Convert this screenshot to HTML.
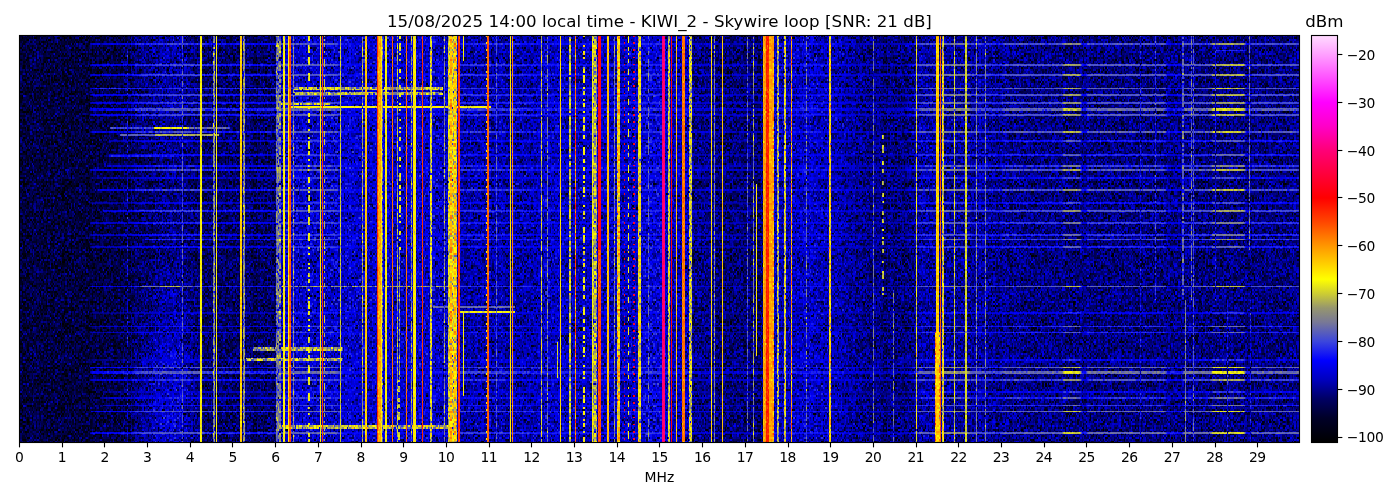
<!DOCTYPE html><html><head><meta charset="utf-8"><style>html,body{margin:0;padding:0;background:#fff;}body{width:1400px;height:500px;overflow:hidden;position:relative;}svg{position:absolute;left:0;top:0;}text{font-family:"DejaVu Sans","Liberation Sans",sans-serif;fill:#000;opacity:0.999;}</style></head><body><svg width="1400" height="500" viewBox="0 0 1400 500"><defs><linearGradient id="cb" x1="0" y1="1" x2="0" y2="0"><stop offset="0.0000" stop-color="#000000"/><stop offset="0.0596" stop-color="#000028"/><stop offset="0.1066" stop-color="#000064"/><stop offset="0.1536" stop-color="#0000be"/><stop offset="0.2007" stop-color="#0000ff"/><stop offset="0.2477" stop-color="#3c46dc"/><stop offset="0.2947" stop-color="#787896"/><stop offset="0.3300" stop-color="#96966e"/><stop offset="0.3652" stop-color="#cdcd32"/><stop offset="0.4005" stop-color="#ffff00"/><stop offset="0.4828" stop-color="#ff9600"/><stop offset="0.5416" stop-color="#ff4600"/><stop offset="0.6003" stop-color="#ff0000"/><stop offset="0.6591" stop-color="#ff003c"/><stop offset="0.7179" stop-color="#ff0078"/><stop offset="0.7767" stop-color="#ff00c8"/><stop offset="0.8354" stop-color="#ff00ff"/><stop offset="0.8942" stop-color="#ff50ff"/><stop offset="0.9530" stop-color="#ffa0ff"/><stop offset="1.0000" stop-color="#ffdcff"/></linearGradient></defs><defs><clipPath id="pc"><rect x="19.40" y="35.30" width="1280.00" height="406.90"/></clipPath><pattern id="pA" width="126" height="72" patternUnits="userSpaceOnUse"><path d="M29 1h2m12 0h2m3 0h2m5 0h1m14 0h1m20 0h1m12 0h1m1 0h2m3 0h1M7 3h1m9 0h3m25 0h1m4 0h2m10 0h1m6 0h1m15 0h2M4 5h2m2 0h2m38 0h1m7 0h3m25 0h3m5 0h3m21 0h2M7 7h1m3 0h2m7 0h1m29 0h2m5 0h2m11 0h1m44 0h1M20 9h1m3 0h1m11 0h2m7 0h1m4 0h2m24 0h1m4 0h2m30 0h2M22 11h2m4 0h1m9 0h1m4 0h2m66 0h1m3 0h1m2 0h1M32 13h2m4 0h3m4 0h1m30 0h1M17 15h1m24 0h3m22 0h2m21 0h1m3 0h1m18 0h2M36 17h2m4 0h1m30 0h1m13 0h1m4 0h2m26 0h2M8 19h2m28 0h3m2 0h2m7 0h1m4 0h2m14 0h1m13 0h1m7 0h2M39 21h2m1 0h3m4 0h1m2 0h1M8 23h2m57 0h2m26 0h2m2 0h2m5 0h2M3 25h1m38 0h1m5 0h1m7 0h1m5 0h1m25 0h2m11 0h1m2 0h1m3 0h1M31 27h1m9 0h1m3 0h1m30 0h1m4 0h2m26 0h2m9 0h2M36 29h2m12 0h2m61 0h2m8 0h2M24 31h1m13 0h1m51 0h1M13 33h1m17 0h1m16 0h1m6 0h1m20 0h1m1 0h2m40 0h2m1 0h2M22 35h2m45 0h1m6 0h1m17 0h1m2 0h1m15 0h2m5 0h2M8 37h2m71 0h3m22 0h2m3 0h1m6 0h1m1 0h2M7 39h1m42 0h2m4 0h1m9 0h1m10 0h1m16 0h1m3 0h1M3 41h1m10 0h1m13 0h3m15 0h2m26 0h2m5 0h2m15 0h1M10 43h1m7 0h2m18 0h1m10 0h1m13 0h1m7 0h2m7 0h1M6 45h2m6 0h1m28 0h2m42 0h1m9 0h1m13 0h2M7 47h1m7 0h2m17 0h1m11 0h2m14 0h1m3 0h1m18 0h2M22 49h2m5 0h2m53 0h1m21 0h2m4 0h1m12 0h1M46 51h2m23 0h2m3 0h1m4 0h2m9 0h2m7 0h1m18 0h2m1 0h2M8 53h2m7 0h1m4 0h2m22 0h3m39 0h2m21 0h2m3 0h2m7 0h1M31 55h1m9 0h1m38 0h1m2 0h1m8 0h2m1 0h2m19 0h2M11 57h2m11 0h1m20 0h1m10 0h1m12 0h1m24 0h1m23 0h1M7 59h1m84 0h2m4 0h1M0 61h1m2 0h1m7 0h2m19 0h2m1 0h1m10 0h2m23 0h2m18 0h1m3 0h2M10 63h1m30 0h1m15 0h2m8 0h2m53 0h1M0 65h1m16 0h1m13 0h1m6 0h1m17 0h1m9 0h1m27 0h1m9 0h1m1 0h2m11 0h1M1 67h2m66 0h1m27 0h1M14 69h1m37 0h1m55 0h1M1 71h2m28 0h1m38 0h1m12 0h1m6 0h1" stroke="#000000" stroke-width="2"/><path d="M18 1h2m4 0h1m21 0h2m25 0h1m7 0h2m9 0h2m1 0h2m1 0h1m3 0h2m15 0h1M3 3h1m6 0h1m4 0h2m22 0h2m19 0h2m14 0h4M1 5h2m3 0h2m21 0h2m10 0h1m7 0h1m17 0h2m29 0h1m2 0h1m6 0h3M0 7h1m3 0h2m16 0h5m1 0h1m17 0h2m7 0h1m6 0h1m55 0h1m3 0h1M18 9h2m33 0h2m1 0h1m7 0h2m35 0h1M3 11h1m4 0h2m4 0h1m12 0h1m13 0h1m25 0h2m39 0h1m16 0h1M1 13h2m3 0h1m20 0h1m29 0h2m4 0h1m54 0h1m6 0h1M3 15h1m14 0h2m7 0h1m10 0h1m2 0h1m14 0h1m7 0h2m7 0h3m35 0h1m4 0h2M7 17h1m21 0h2m4 0h1m23 0h1m9 0h1m4 0h2m1 0h1m16 0h1m14 0h2m4 0h1M63 19h1m12 0h1m8 0h2m5 0h2m7 0h1M6 21h1m46 0h2m4 0h3m21 0h2m31 0h2m2 0h2m1 0h2M10 23h1m6 0h1m20 0h1m24 0h1m27 0h1m19 0h1m6 0h1m1 0h2m3 0h1M1 25h2m5 0h2m28 0h1m11 0h2m11 0h1m30 0h1m16 0h1M25 27h2m60 0h1m7 0h2m4 0h1m14 0h2M8 29h2m7 0h1m2 0h1m3 0h1m7 0h2m14 0h1m22 0h2m7 0h1m14 0h3m3 0h1m17 0h3M0 31h1m3 0h2m43 0h1m9 0h1m35 0h2m11 0h1m4 0h2M0 33h1m10 0h2m15 0h1m31 0h2m26 0h2m18 0h1m2 0h1M13 35h1m1 0h2m10 0h1m10 0h1m17 0h4m3 0h1m16 0h1M11 37h2m15 0h1m5 0h1m20 0h1m15 0h2m1 0h2m2 0h2m14 0h1m28 0h2M24 39h1m53 0h3m30 0h1M36 41h2m7 0h1m11 0h2m5 0h2M8 43h2m25 0h1m12 0h1m6 0h1m66 0h1M21 45h1m7 0h2m5 0h2m1 0h2m29 0h1m19 0h1m1 0h2m15 0h2M13 47h1m10 0h1m2 0h1m46 0h2m8 0h1M8 49h5m2 0h2m94 0h1m8 0h2M6 51h1m28 0h1m6 0h1m19 0h1m11 0h2m4 0h1M1 53h2m1 0h2m7 0h1m6 0h1m15 0h2m35 0h1m4 0h2m21 0h1m17 0h1M3 55h1m2 0h1m14 0h1m34 0h3m61 0h2M1 57h3m4 0h2m24 0h2m6 0h1m5 0h1m4 0h2m7 0h1m13 0h2m44 0h1M8 59h2m12 0h2m14 0h3m9 0h2m1 0h2m1 0h1m19 0h1m35 0h1m2 0h1m3 0h1m3 0h2M18 61h2m25 0h1m2 0h1m18 0h2m1 0h1m14 0h2m10 0h1m7 0h3m4 0h3m5 0h2M18 63h2m2 0h2m14 0h1m6 0h1m14 0h2m11 0h1m4 0h2m14 0h1m13 0h1m11 0h2M13 65h1m22 0h2m24 0h1m4 0h2m11 0h1m4 0h3m23 0h1M11 67h2m1 0h1m10 0h2m5 0h3m6 0h1m1 0h2m7 0h1m2 0h1m6 0h1m24 0h1M0 69h1m16 0h1m10 0h1m10 0h2m4 0h1m24 0h1m12 0h1m11 0h2m7 0h1m20 0h1M15 71h2m42 0h1m2 0h1m4 0h2m2 0h2m1 0h2m11 0h1m11 0h2m5 0h2m10 0h1m6 0h1" stroke="#171717" stroke-width="2"/><path d="M10 1h1m6 0h1m4 0h2m17 0h1M11 3h2m9 0h2m10 0h1m18 0h2m8 0h1m30 0h1m4 0h2m1 0h2m1 0h1m9 0h1M27 5h1m3 0h1m27 0h1m6 0h1m3 0h1m10 0h2m23 0h2m14 0h1M74 7h2m5 0h2m26 0h3m8 0h2M39 9h2m8 0h1m23 0h1m9 0h1m11 0h2m9 0h2M45 11h1m4 0h2m1 0h2m25 0h1m14 0h2M4 13h2m12 0h2m15 0h1m6 0h1m41 0h1m16 0h1m6 0h1m10 0h1m2 0h1M10 15h1m41 0h1m2 0h1m3 0h3m7 0h1m27 0h1m11 0h2M11 17h2m1 0h1m7 0h2m4 0h1m27 0h1m66 0h2M1 19h2m43 0h2m32 0h1m18 0h2m4 0h1m17 0h2M1 21h2m60 0h1m17 0h2m14 0h1m1 0h2m8 0h2M28 23h1m55 0h1m3 0h3m11 0h2M7 25h1m23 0h1m35 0h2m2 0h2m4 0h1m20 0h3m12 0h2M4 27h2m2 0h2m24 0h1m21 0h1m2 0h1m2 0h1m3 0h1m10 0h1m2 0h1m3 0h3M1 29h2m19 0h2m32 0h1m41 0h1m3 0h2m4 0h3m14 0h1M10 31h1m3 0h1m48 0h1m13 0h1m19 0h1m20 0h1M4 33h2m4 0h1m11 0h3m9 0h1m1 0h2m11 0h1m6 0h1m7 0h2m3 0h1m13 0h1M48 35h1m13 0h1m15 0h2m7 0h1m17 0h1m16 0h1M21 37h1m7 0h2m10 0h1m20 0h1m4 0h2m26 0h2m4 0h1m6 0h3m11 0h1M20 39h1m1 0h2m36 0h2m1 0h1m17 0h2m9 0h2m21 0h1m4 0h2M15 41h2m3 0h2m13 0h1m40 0h1m13 0h1m14 0h1m2 0h1M0 43h1m20 0h1m17 0h2m2 0h2m29 0h2m2 0h2m11 0h1m13 0h1m9 0h1M4 45h2m50 0h1m5 0h1m13 0h1m46 0h2M35 47h1m12 0h1m46 0h2m1 0h3M3 49h1m3 0h1m16 0h1m27 0h1m4 0h2m5 0h2m4 0h3m10 0h1m6 0h1m14 0h1m2 0h1M3 51h1m16 0h1m10 0h1m2 0h1m8 0h2m7 0h1m20 0h1m9 0h1m3 0h1m34 0h1m2 0h1M50 53h2m33 0h2m4 0h1m6 0h1m3 0h3m3 0h1M0 55h1m17 0h2m7 0h1m4 0h2m64 0h1m19 0h1m4 0h2M0 57h1m9 0h1m38 0h1m2 0h1m11 0h2m43 0h4m6 0h1M21 59h1m13 0h1m66 0h2M15 61h2m4 0h1m41 0h1m9 0h1m16 0h1m27 0h1M15 63h2m4 0h1m3 0h3m3 0h1m11 0h2m7 0h1m37 0h1M1 65h2m56 0h1m37 0h2m14 0h2M13 67h1m4 0h2m40 0h2m1 0h1m27 0h1m7 0h2m18 0h1M31 69h1m10 0h1m7 0h2m5 0h2m5 0h2m7 0h1m10 0h1m3 0h2m19 0h2m9 0h2M7 71h1m2 0h1m2 0h1m6 0h1m60 0h2m5 0h2m4 0h1m10 0h1m14 0h2" stroke="#2e2e2e" stroke-width="2"/><path d="M8 1h2m40 0h3m9 0h1m1 0h2m21 0h1m20 0h3m12 0h2M13 3h1m13 0h1m3 0h1m11 0h2m7 0h1m11 0h2m14 0h1m3 0h1m23 0h1m2 0h1m1 0h2m5 0h2M13 5h1m18 0h2m9 0h3m9 0h1M59 7h1m18 0h2m8 0h2m5 0h2m2 0h3m2 0h1m3 0h1M1 9h2m40 0h2m3 0h1m18 0h3m14 0h1m14 0h2m10 0h1M1 11h2m7 0h3m26 0h2m28 0h1m22 0h2m10 0h1M14 13h1m13 0h1m12 0h1m1 0h2m8 0h2m15 0h1m16 0h1m4 0h2m1 0h2m5 0h2m9 0h5m2 0h2M11 15h2m7 0h1m15 0h2m15 0h2m2 0h2m26 0h2m8 0h2m9 0h2m17 0h1M25 17h2m16 0h2m5 0h2m14 0h1m13 0h1m7 0h2M41 19h1m22 0h2m5 0h2m8 0h2m11 0h1M3 21h1m21 0h2m2 0h5m2 0h2m17 0h1m10 0h1m7 0h2m12 0h2M13 23h1m15 0h2m25 0h1m5 0h1m13 0h1m20 0h1M14 25h1m2 0h1m51 0h1m10 0h1m31 0h1m3 0h2m1 0h1M1 27h2m25 0h1m3 0h2m9 0h2m5 0h2m31 0h1m27 0h1m1 0h2m4 0h1M43 29h2m8 0h2m19 0h3m34 0h1m10 0h1M13 31h1m18 0h2m8 0h1m10 0h2m15 0h1m10 0h2m4 0h1m6 0h1m3 0h1m20 0h1M18 33h2m30 0h2m19 0h2M14 35h1m3 0h2m9 0h2m5 0h2m11 0h1m21 0h2m19 0h2m14 0h3m4 0h1M1 37h2m3 0h2m23 0h1m6 0h1m4 0h2m14 0h1m4 0h2m32 0h3M28 39h1m9 0h1m4 0h2m7 0h1m37 0h1m28 0h1M11 41h2m18 0h1m21 0h2m5 0h2m4 0h1m6 0h1m20 0h1m4 0h2m3 0h1m6 0h1m1 0h2M3 43h1m28 0h2m11 0h1m23 0h1m3 0h1m7 0h2m23 0h2m12 0h2M3 45h1m18 0h2m8 0h2m21 0h1m3 0h1m7 0h2M11 47h2m37 0h2m1 0h2m2 0h3m7 0h2m21 0h1m6 0h1m22 0h2m1 0h2M55 49h1m17 0h1m6 0h1m32 0h2M13 51h1m13 0h1m32 0h2m2 0h2m22 0h2m12 0h2m8 0h1m2 0h1M18 53h2m7 0h1m24 0h1m30 0h1m3 0h1m9 0h1m25 0h2M13 55h1m28 0h1m30 0h1m35 0h2m11 0h1M21 57h1m5 0h1m4 0h2m7 0h1m17 0h1m20 0h1m6 0h1m17 0h1m2 0h1M6 59h1m4 0h2m7 0h1m25 0h2m14 0h1m3 0h1m4 0h2m24 0h1m24 0h1M34 61h1m4 0h2m14 0h1m3 0h1m56 0h2M3 63h3m5 0h2m29 0h1m31 0h2m9 0h2m18 0h1M10 65h1m11 0h2m19 0h2m7 0h1m16 0h1m20 0h1m32 0h2M53 67h2m18 0h1m21 0h2M4 69h2m15 0h1m2 0h1m16 0h1m29 0h2m1 0h3m8 0h2m18 0h1M38 71h1m9 0h1m8 0h2m17 0h1m38 0h1m7 0h2" stroke="#464646" stroke-width="2"/><path d="M21 1h1m45 0h2m8 0h1m6 0h1m5 0h1m8 0h2M0 3h1m3 0h2m40 0h2m1 0h1m17 0h2m4 0h1m32 0h2M11 5h2m5 0h2m4 0h1m17 0h1m7 0h2m8 0h2m29 0h1m12 0h1M29 7h2m21 0h1m16 0h1m3 0h1m20 0h1m24 0h1M0 9h1m20 0h1m6 0h1m3 0h2m12 0h2m23 0h2m12 0h2M15 11h2m3 0h1m14 0h1m38 0h2m9 0h3m6 0h1m4 0h2M13 13h1m20 0h1m13 0h1m18 0h2M0 15h1m61 0h1M4 17h3m25 0h2m11 0h1m2 0h1m32 0h2m12 0h4M14 19h1m5 0h1m3 0h1m3 0h1m2 0h1m4 0h2m32 0h1m41 0h1m12 0h1M8 21h2m4 0h3m11 0h1m16 0h3m9 0h2m35 0h1m10 0h1M7 23h1m3 0h2m7 0h1m6 0h1m20 0h1m3 0h1m41 0h1m10 0h1m9 0h1m6 0h1M85 25h3m3 0h1m3 0h2M6 27h1m3 0h1m6 0h1m21 0h2m22 0h1m7 0h2m17 0h1m17 0h1M3 29h1m2 0h1m4 0h2m32 0h1m11 0h2m5 0h2m7 0h1m9 0h2M39 31h2m4 0h1m11 0h2m5 0h2m1 0h2m42 0h1M3 33h1m10 0h1m23 0h1m31 0h1m28 0h2m24 0h1M10 35h1m21 0h2m36 0h1m3 0h2m19 0h2m4 0h1m9 0h1M13 37h1m3 0h1m14 0h2m5 0h2m7 0h2m10 0h2m4 0h1m20 0h1m2 0h1m6 0h1m4 0h2M10 39h1m23 0h1m4 0h2m8 0h1m26 0h1m18 0h2m9 0h2m10 0h1M41 41h1m13 0h2m12 0h1m48 0h1M13 43h1m1 0h2m7 0h1m9 0h1m24 0h1m4 0h2m17 0h1m13 0h1m10 0h1m14 0h2M17 45h1m17 0h1m13 0h1m3 0h2m25 0h1m3 0h1m10 0h2m5 0h2m4 0h1m10 0h3M25 47h2m12 0h3m10 0h1m2 0h1m25 0h2m25 0h1m3 0h1M14 49h1m17 0h2m7 0h1m3 0h1m23 0h1m8 0h2m11 0h1m2 0h1m2 0h1m17 0h1M7 51h1m3 0h2m16 0h2m7 0h1m9 0h1m4 0h2m2 0h2m10 0h1m7 0h1m31 0h3m1 0h2M6 53h1m4 0h2m12 0h2m5 0h2m9 0h2m17 0h1m7 0h3m7 0h1m13 0h1M20 55h1m69 0h1m13 0h1M6 57h2m7 0h2m12 0h2m29 0h2m39 0h1m18 0h2m1 0h2M4 59h2m11 0h1m7 0h2m5 0h2m18 0h1m2 0h1m25 0h2m4 0h3m15 0h1m3 0h2M80 61h1m27 0h1m16 0h1M0 63h1m52 0h2m8 0h1m7 0h2m3 0h1m21 0h3m3 0h1m18 0h2M50 65h2m18 0h1m2 0h1m7 0h2m8 0h1m7 0h2m1 0h2M46 67h2m16 0h2M7 69h1m7 0h2m1 0h2m28 0h1m20 0h1m28 0h1m3 0h2m8 0h1m2 0h4m3 0h1M0 71h1m2 0h3m22 0h3m21 0h1m16 0h1m8 0h2" stroke="#5d5d5d" stroke-width="2"/><path d="M57 1h2m26 0h2M1 3h2m3 0h1m64 0h2m15 0h3M62 5h1m6 0h1m3 0h1m14 0h2m15 0h1m7 0h2m8 0h3M34 7h1m36 0h2m10 0h1m6 0h1m15 0h2m5 0h2M11 9h2m4 0h1m13 0h1m31 0h1m23 0h1m34 0h1m2 0h1M18 11h2m4 0h1m6 0h1m16 0h1M20 13h1m4 0h2m22 0h1m2 0h1m53 0h2m1 0h2m1 0h1M24 15h3m5 0h2m42 0h1m6 0h1m4 0h2m11 0h1m2 0h1m10 0h1M3 17h1m11 0h2m3 0h1m10 0h1m6 0h1m10 0h1m49 0h2M21 19h1m31 0h2m7 0h1m34 0h1m4 0h2m15 0h1M13 21h1m55 0h1m3 0h1m2 0h2m20 0h1m5 0h1m8 0h2m4 0h1M25 23h2m4 0h1m3 0h3m1 0h2m14 0h1m8 0h3m2 0h1m10 0h1m38 0h1M0 25h1m20 0h1m3 0h4m17 0h2m11 0h1m18 0h2m29 0h2m4 0h1M21 27h1m26 0h1m11 0h2m26 0h2M4 29h2m12 0h2m46 0h1m14 0h2m8 0h1M6 31h1m13 0h1m10 0h1m9 0h1m1 0h2m11 0h1m14 0h2m32 0h3m1 0h2M7 33h1m9 0h1m3 0h1m44 0h1m7 0h2m15 0h1m21 0h2m7 0h1M8 35h2m32 0h1m34 0h1m10 0h2m9 0h2m1 0h2m12 0h3M15 37h2m5 0h2m26 0h2M1 39h3m58 0h1m38 0h1M4 41h2m2 0h2m57 0h2m1 0h1m13 0h1m17 0h2M14 43h1m21 0h2m4 0h1m7 0h2m5 0h2m39 0h1m20 0h1m5 0h1M0 45h1m26 0h1m3 0h1m16 0h1m14 0h1m9 0h1m17 0h1m14 0h2m5 0h5M4 47h3m36 0h2m35 0h1m2 0h1m3 0h1m13 0h1m7 0h2m2 0h2m10 0h1M0 49h1m30 0h1m14 0h2m2 0h2m1 0h2m61 0h2m5 0h2M4 51h2m39 0h1m13 0h1m6 0h1m17 0h1m10 0h2M7 53h1m13 0h1m31 0h2m2 0h2m4 0h1m5 0h1m6 0h1m4 0h2m16 0h2m4 0h3m12 0h2M1 55h2m5 0h2m15 0h2m1 0h1m17 0h2m49 0h1m4 0h2m4 0h1M14 57h1m3 0h2m30 0h2m3 0h1m1 0h2m25 0h1m10 0h2m1 0h1m26 0h1M3 59h1m11 0h2m11 0h1m12 0h1m35 0h1m2 0h1m20 0h1m9 0h1m13 0h1M1 61h2m7 0h1m9 0h1m4 0h2m35 0h1m29 0h3m3 0h1M1 63h2m80 0h1m22 0h2m5 0h2m3 0h1M7 65h1m7 0h2m1 0h3m11 0h2m8 0h1m2 0h1m3 0h1m7 0h2m5 0h2m11 0h1m14 0h2m1 0h2m18 0h1M7 67h1m20 0h1m6 0h1m21 0h2m35 0h1m3 0h1m3 0h2m12 0h2m7 0h1M8 69h2m45 0h1m6 0h1m4 0h2m12 0h2m7 0h1m1 0h3m11 0h2M34 71h1m8 0h3m10 0h1m20 0h1m2 0h1m30 0h1" stroke="#747474" stroke-width="2"/><path d="M32 1h2m44 0h2m17 0h1m3 0h1m11 0h2m1 0h3M8 3h2m25 0h1m2 0h1m2 0h2m12 0h1m18 0h2m25 0h1m21 0h2M3 5h1m13 0h1m2 0h1m31 0h1M6 7h1m8 0h3m13 0h1m3 0h1m55 0h1m6 0h1m3 0h2M3 9h3m35 0h1m55 0h1m4 0h2m1 0h1m9 0h1M13 11h1m20 0h1m7 0h1m47 0h1m14 0h1m7 0h2m5 0h2M10 13h3m8 0h1m7 0h2m43 0h2m1 0h1m2 0h1M1 15h2m1 0h3m6 0h1m63 0h1m2 0h1m3 0h1m13 0h1m6 0h1m14 0h2M13 17h1m7 0h1m2 0h1m28 0h2m5 0h2m8 0h1m13 0h1m6 0h1m13 0h1m16 0h1m2 0h1M10 19h1m2 0h1m3 0h1m30 0h1m1 0h2m4 0h1m9 0h1m23 0h1m17 0h1m9 0h1M48 21h1m42 0h1m3 0h2m14 0h1m13 0h1M57 23h2m12 0h2m1 0h2m5 0h2m26 0h2M13 25h1m10 0h1m18 0h2m4 0h1m14 0h3m7 0h2m5 0h3M7 27h1m12 0h1m8 0h2m4 0h1m17 0h2m2 0h2m53 0h1m10 0h2M7 29h1m19 0h1m10 0h1m21 0h2m5 0h2m8 0h1m16 0h1m17 0h1M1 31h3m3 0h1m9 0h1m3 0h1m5 0h1m24 0h1m49 0h2M32 33h2m8 0h1m9 0h1m6 0h1m3 0h1m20 0h1m7 0h2m4 0h1m6 0h3m10 0h2M3 35h1m2 0h1m14 0h1m13 0h1m9 0h1m7 0h2m30 0h2M18 37h2m7 0h1m63 0h1m24 0h2M27 39h1m42 0h1m26 0h1m18 0h2M6 41h1m25 0h2m4 0h1m4 0h2m17 0h1m14 0h1m14 0h2m1 0h3m3 0h1m10 0h1M6 43h2m19 0h1m24 0h1m3 0h1m9 0h1m17 0h3m17 0h1m8 0h2m1 0h2M38 45h1m2 0h1m4 0h2m9 0h2m15 0h2m12 0h2m4 0h1m3 0h1M1 47h2m17 0h1m1 0h2m7 0h3m30 0h2m26 0h2m17 0h1M27 49h1m6 0h1m4 0h2m19 0h2m12 0h2m19 0h2m4 0h3m18 0h1M14 51h1m3 0h2m2 0h2m17 0h1m14 0h1m33 0h1m3 0h1m3 0h1M31 53h1m7 0h2m1 0h1m12 0h1m53 0h2m2 0h2m3 0h1M10 55h1m4 0h2m7 0h1m13 0h1m13 0h1m11 0h2m3 0h2m3 0h2m39 0h1M25 57h2m36 0h1m3 0h2m22 0h3M18 59h2m7 0h1m3 0h1m13 0h1m18 0h2m3 0h1m8 0h2m19 0h2m5 0h3M36 61h3m13 0h1m13 0h1m20 0h1m11 0h2M7 63h1m24 0h2m5 0h2m9 0h2m7 0h1m9 0h2m10 0h2m12 0h2m12 0h2m1 0h1m3 0h2M4 65h2m2 0h2m24 0h1m39 0h2m2 0h2m8 0h2m18 0h1M6 67h1m13 0h1m3 0h1m20 0h1m10 0h1m10 0h2m1 0h3m7 0h1m2 0h1m20 0h1m4 0h2m12 0h2M11 69h2m7 0h1m4 0h2m5 0h2m2 0h2M8 71h2m22 0h2m57 0h1m9 0h1m17 0h1" stroke="#8b8b8b" stroke-width="2"/><path d="M0 1h1m2 0h3m7 0h1m6 0h1m13 0h1m21 0h1m2 0h1m9 0h1m4 0h2m36 0h1M20 3h2m6 0h1m37 0h1m25 0h2m3 0h1m27 0h1M22 5h2m10 0h1m18 0h2m16 0h2m14 0h1m11 0h2m10 0h1M3 7h1m4 0h2m31 0h4m11 0h1m6 0h1m3 0h2m16 0h3m24 0h1m10 0h3M8 9h2m5 0h2m25 0h1m12 0h1m14 0h1m6 0h1m30 0h3m12 0h2M29 11h2m5 0h2m14 0h1m9 0h2m6 0h1m31 0h2M0 13h1m7 0h2m5 0h3m4 0h2m32 0h1m2 0h1M39 15h2m9 0h2m19 0h2m5 0h2m19 0h2M34 17h1m28 0h1m19 0h1m28 0h1M0 19h1m2 0h1m7 0h2m12 0h2m42 0h1m8 0h2m11 0h1m12 0h1m4 0h2M4 21h2m64 0h3m5 0h2m5 0h2m3 0h1m27 0h1M3 23h1m2 0h1m14 0h1m20 0h1m6 0h1m3 0h2m37 0h2M18 25h2m2 0h2m8 0h3m17 0h1m37 0h1m11 0h2m2 0h2m15 0h2M3 27h1m11 0h2m1 0h2m7 0h1m18 0h2m1 0h1m47 0h1m1 0h2m17 0h1M0 29h1m12 0h1m15 0h2m4 0h1m6 0h1m6 0h1m37 0h1m4 0h2m21 0h1M18 31h2m28 0h1m50 0h2m11 0h1m2 0h1M29 33h2m22 0h2m30 0h2m3 0h1m10 0h3M17 35h1m6 0h1m42 0h2m12 0h3m14 0h1m5 0h1m1 0h2m11 0h1M25 37h2m46 0h1m2 0h1m36 0h2m4 0h1M6 39h1m24 0h1m9 0h1m6 0h1m10 0h1m9 0h1m3 0h1m35 0h2m11 0h1M1 41h2m4 0h1m9 0h1m6 0h1m17 0h1m20 0h1m27 0h1m17 0h2m5 0h2m1 0h4M1 43h2m50 0h2m15 0h1m16 0h1m13 0h1m10 0h1M11 45h2m29 0h1m2 0h1m4 0h2m8 0h2m15 0h1m21 0h2m3 0h1M0 47h1m27 0h3m11 0h1m2 0h1m24 0h1m34 0h1m13 0h1M17 49h1m3 0h1m6 0h1m56 0h2M1 51h2m5 0h2m22 0h2m5 0h2m22 0h1m21 0h2m4 0h1m24 0h2M15 53h2m12 0h2m7 0h1m28 0h2M11 55h2m1 0h1m33 0h1m14 0h1m3 0h2m18 0h3m11 0h1m10 0h1m6 0h1M20 57h1m7 0h1m9 0h3m2 0h2m28 0h3m40 0h2M34 59h1m13 0h1m11 0h2m1 0h1m9 0h1m10 0h1m35 0h2M17 61h1m4 0h2m3 0h1m21 0h1m10 0h2m22 0h1m3 0h2M8 63h2m4 0h1m5 0h1m41 0h1m21 0h1m26 0h1m7 0h1M21 65h1m6 0h1m31 0h2m43 0h1M4 67h2m9 0h2m4 0h1m5 0h1m38 0h1m10 0h3m5 0h2m24 0h1m3 0h1m4 0h2M3 69h1m31 0h1m2 0h1m21 0h2m1 0h1m2 0h1m56 0h2M39 71h3m71 0h2m7 0h1" stroke="#a2a2a2" stroke-width="2"/><path d="M1 1h2m3 0h1m4 0h2m12 0h2m18 0h1m17 0h1m16 0h1m7 0h2M25 3h2m2 0h2m88 0h1M10 5h1m14 0h2m8 0h1m27 0h1m14 0h2m32 0h1M45 7h1m2 0h2m30 0h1M7 9h1m51 0h1m18 0h2m8 0h2m1 0h3m22 0h2m2 0h2M17 11h1m7 0h2m5 0h2m12 0h2m7 0h1m1 0h2m12 0h3m3 0h1m3 0h4m12 0h2m7 0h2m1 0h2m5 0h2m1 0h1m2 0h1M7 13h1m16 0h1m39 0h2m7 0h1m7 0h2m2 0h2m3 0h1m3 0h1m2 0h1M7 15h1m21 0h2m3 0h1m10 0h1m2 0h1m32 0h2m29 0h1M0 17h1m16 0h1m39 0h2m3 0h1m22 0h2m14 0h4m1 0h2m8 0h2M4 19h2m9 0h2m5 0h2m5 0h2m43 0h2m22 0h1m23 0h1M7 21h1m2 0h1m23 0h1m21 0h1m7 0h2m40 0h2m14 0h1M50 23h2m8 0h2m21 0h1m14 0h1m2 0h1m11 0h2m1 0h2M20 25h1m14 0h1m17 0h2m2 0h2m25 0h1M0 27h1m12 0h2m9 0h1m11 0h3m25 0h2m7 0h3m18 0h1m10 0h3m14 0h1m2 0h1M10 29h1m51 0h1m6 0h1M8 31h2m26 0h2m12 0h2m3 0h1m10 0h1m2 0h1m4 0h3m6 0h1m38 0h4M1 33h2m24 0h1m29 0h2m8 0h2m43 0h1m2 0h3M20 35h1m7 0h1m2 0h1m11 0h2m15 0h2m2 0h2m18 0h1M0 37h1m2 0h1m41 0h1m7 0h2m2 0h2m18 0h1m2 0h1m7 0h2m15 0h1m19 0h1M8 39h2m1 0h2m2 0h2m1 0h2m12 0h2m8 0h1m28 0h2m12 0h2m18 0h1m7 0h2M25 41h2m7 0h1m4 0h2m18 0h1m46 0h2M4 43h2m14 0h1m4 0h2m33 0h2m14 0h1m11 0h2m2 0h2m1 0h2m12 0h2m7 0h1M24 45h1m44 0h1m13 0h1M18 47h2m18 0h1m21 0h2m1 0h1m5 0h1m3 0h1m3 0h1m40 0h1M4 49h2m12 0h2m15 0h1m83 0h1M0 51h1m27 0h1m7 0h2m29 0h2m1 0h1m26 0h1m1 0h2m3 0h1M0 53h1m9 0h1m3 0h1m9 0h1m9 0h1m24 0h1m32 0h2m21 0h1m6 0h1M29 55h2m22 0h2m16 0h2m4 0h1m3 0h2m1 0h1m14 0h2m12 0h2M4 57h2m11 0h1m4 0h2m12 0h2m8 0h2m33 0h2m5 0h2M36 59h2m4 0h1m73 0h2M24 61h1m17 0h1m13 0h1m7 0h2m35 0h4m4 0h2m11 0h3M17 63h1m6 0h1m4 0h2m24 0h1m8 0h2m11 0h1m10 0h2m2 0h2m31 0h1M3 65h1m2 0h1m17 0h1m2 0h1m35 0h1m48 0h1M0 67h1m37 0h1m11 0h2m7 0h1m24 0h1m3 0h2m16 0h2M29 69h2m3 0h1m14 0h1m9 0h1m17 0h1m33 0h1m7 0h1M6 71h1m4 0h2m4 0h1m3 0h1m14 0h2m12 0h2m8 0h2m35 0h2m3 0h2m4 0h1" stroke="#b9b9b9" stroke-width="2"/><path d="M7 1h1m7 0h2m14 0h1m6 0h1m3 0h1m10 0h2m5 0h2m32 0h1m25 0h2M48 3h1m7 0h1m2 0h1m10 0h1m10 0h2m4 0h1m3 0h1m3 0h2m1 0h1m10 0h2M0 5h1m20 0h1m16 0h3m23 0h2m14 0h1m2 0h1m11 0h2M10 7h1m2 0h1m4 0h2m1 0h1m17 0h2m12 0h2m9 0h2m11 0h1m27 0h1M14 9h1m7 0h2m5 0h2m4 0h1m58 0h1m23 0h1M64 11h2m25 0h1m9 0h1m10 0h1m10 0h2M31 13h1m23 0h1m6 0h1m3 0h1m16 0h1m14 0h3m10 0h1M21 15h1m24 0h2m1 0h1m16 0h1m20 0h1m20 0h1m13 0h3M1 17h2m38 0h1m13 0h1m15 0h2m3 0h1m31 0h1m9 0h1M6 19h2m10 0h2m22 0h1m16 0h1m23 0h1m4 0h2m21 0h1m3 0h1M11 21h2m4 0h1m3 0h1m2 0h1m25 0h2m35 0h1m14 0h2m11 0h1M0 23h3m12 0h2m26 0h3m27 0h1m4 0h2m5 0h3m16 0h1m7 0h1M41 25h1m63 0h1m12 0h1m1 0h2m3 0h1M55 27h1m14 0h1m7 0h2m11 0h1m12 0h1M46 29h2m7 0h1m29 0h2m12 0h2m15 0h2M22 31h2m4 0h1m6 0h1m24 0h2m11 0h1m4 0h2m8 0h2m11 0h1m18 0h2M8 33h2m10 0h1m4 0h2m16 0h3m16 0h1m10 0h1m13 0h1m6 0h1m2 0h1m11 0h2M1 35h2m4 0h1m3 0h2m33 0h2m7 0h1m10 0h1m24 0h1M56 37h1m27 0h3m5 0h2m18 0h1m2 0h1M21 39h1m3 0h2m18 0h3m5 0h2m2 0h2m5 0h2m1 0h2m14 0h1m3 0h1m3 0h1m10 0h2m4 0h1M0 41h1m17 0h2m32 0h1m18 0h2m5 0h2m5 0h2m1 0h2m25 0h1M17 43h1m10 0h1m38 0h2m8 0h1M1 45h2m10 0h1m64 0h2m21 0h1m16 0h1M3 47h1m4 0h2m7 0h1m3 0h1m27 0h1m26 0h1m25 0h2m2 0h2M25 49h2m29 0h1m2 0h1m6 0h1m9 0h1m10 0h1M17 51h1m3 0h1m27 0h3m53 0h1m2 0h1m9 0h1M45 53h1m3 0h1m27 0h1M4 55h2m1 0h1m35 0h3m9 0h1m20 0h1m1 0h2m11 0h1m2 0h1m11 0h2M66 57h1m4 0h2m31 0h1m10 0h1M0 59h3m26 0h2m18 0h1m20 0h1m12 0h1m11 0h2m7 0h1m8 0h2M6 61h1m24 0h1m25 0h2m18 0h1m33 0h1m3 0h1M6 63h1m6 0h1m14 0h1m5 0h2m20 0h1m34 0h1m10 0h2M35 65h1m5 0h1m4 0h2m5 0h3m15 0h2m10 0h1m25 0h2m9 0h2m3 0h1M92 67h2m11 0h1m6 0h3m3 0h1M13 69h1m13 0h1m15 0h2m11 0h1m23 0h1m6 0h1m11 0h2M14 71h1m10 0h2m26 0h2m8 0h1m9 0h1m18 0h2m18 0h1" stroke="#d1d1d1" stroke-width="2"/><path d="M14 1h1m13 0h1m6 0h1m3 0h2m25 0h1m4 0h2m3 0h1m28 0h1m16 0h1m2 0h1M24 3h1m11 0h2m19 0h2m24 0h1m20 0h1m13 0h1m3 0h1M36 5h2m36 0h2m21 0h1M1 7h2m11 0h1m12 0h1m38 0h1m9 0h1m7 0h1m7 0h2m3 0h1M6 9h1m3 0h1m14 0h2m7 0h1m3 0h1m13 0h1m4 0h2m1 0h3m3 0h1m45 0h1m6 0h1M0 11h1m5 0h1m42 0h1m9 0h1m18 0h2m8 0h2M46 13h2m30 0h2m8 0h2m1 0h1m13 0h1M14 15h3m5 0h2m7 0h1m3 0h1m27 0h1m6 0h1m20 0h1m27 0h1M39 17h2m5 0h2m4 0h1m11 0h2m24 0h1m20 0h1m1 0h2m4 0h1M27 19h1m4 0h2m11 0h1m3 0h1m56 0h2m5 0h2m1 0h2M18 21h2m7 0h1m7 0h1m2 0h1m2 0h1m20 0h1m4 0h2m32 0h1m10 0h1M4 23h2m8 0h1m17 0h2m12 0h2m22 0h1m37 0h1M4 25h3m4 0h2m16 0h2m14 0h1m9 0h1m17 0h1m2 0h1m20 0h1M11 27h2m9 0h2m18 0h1m24 0h2m46 0h1M14 29h1m6 0h1m3 0h2m1 0h1m5 0h1m24 0h1m10 0h1m19 0h1m13 0h2M11 31h2m21 0h1m11 0h2m43 0h3M15 33h2m18 0h1m3 0h2m5 0h2m29 0h1m3 0h2M34 35h1m6 0h1m8 0h2m71 0h2M4 37h2m4 0h1m35 0h2m4 0h1m10 0h1m5 0h2M0 39h1m3 0h2m7 0h2m14 0h2m53 0h1m27 0h1m12 0h1M48 41h1m31 0h1m42 0h3M29 43h2m31 0h1m39 0h2M10 45h1m7 0h3m7 0h1m5 0h1m29 0h2m56 0h1m2 0h1M14 47h1m21 0h2m18 0h1m14 0h2m21 0h1m21 0h2m4 0h1M20 49h1m22 0h2m4 0h1m12 0h1m14 0h1m3 0h2m15 0h3m3 0h1M10 51h1m13 0h1m30 0h1m22 0h2m26 0h2M3 53h1m31 0h1m24 0h2m2 0h3m7 0h2m19 0h2M22 55h2m11 0h3m1 0h2m9 0h2m14 0h1m18 0h2m38 0h1M31 57h1m38 0h1m7 0h2m3 0h1m6 0h1m8 0h2m1 0h2M24 59h1m32 0h3m14 0h2m9 0h2m3 0h1m3 0h1m23 0h1M7 61h1m5 0h2m13 0h3m10 0h1m8 0h2m1 0h2m19 0h2m5 0h2m36 0h1M66 63h1m13 0h1m6 0h1m9 0h1m17 0h1M11 65h2m63 0h1m7 0h1m16 0h1m14 0h2m4 0h1M8 67h3m6 0h1m4 0h2m12 0h2m11 0h1m24 0h2m25 0h1m6 0h1M6 69h1m39 0h2m65 0h2M22 71h2m3 0h1m7 0h1m6 0h1m6 0h1m14 0h2m18 0h3m8 0h2m7 0h1" stroke="#e8e8e8" stroke-width="2"/><path d="M27 1h1m8 0h2m45 0h1m31 0h1M14 3h1m17 0h2m78 0h1m3 0h2M14 5h3m11 0h1m17 0h2m28 0h2m12 0h1m11 0h2m11 0h1m2 0h4M32 7h2m2 0h3m21 0h2m54 0h2M13 9h1m13 0h1m46 0h2m4 0h1m9 0h1m7 0h1m5 0h1M4 11h2m1 0h1m13 0h1m34 0h1m3 0h2m4 0h1m9 0h1M3 13h1m32 0h2m12 0h2m8 0h2m7 0h1m1 0h2m31 0h1m18 0h2M8 15h2m18 0h1m63 0h2m8 0h2m14 0h1M8 17h3m7 0h2m7 0h1m39 0h2m9 0h2M34 19h2m19 0h1m4 0h2m5 0h2m8 0h1m6 0h1m35 0h2M0 21h1m19 0h1m1 0h2m56 0h1m11 0h2m14 0h1M18 23h2m2 0h3m9 0h1m6 0h1m17 0h1m17 0h1m45 0h2M10 25h1m4 0h2m19 0h2m1 0h2m19 0h2m8 0h1m21 0h2m28 0h1M52 27h1m16 0h1m22 0h2m4 0h1m3 0h2M15 29h2m14 0h1m7 0h3m10 0h1m10 0h1m14 0h2m8 0h2m16 0h2m10 0h1M15 31h2m8 0h2m2 0h2m31 0h1m17 0h1m3 0h3m17 0h1m11 0h2M6 33h1m34 0h1m38 0h1m14 0h2m7 0h1M0 35h1m3 0h2m19 0h2m12 0h2m11 0h1m20 0h1m16 0h1m21 0h1m12 0h1M14 37h1m5 0h1m3 0h1m10 0h3m4 0h1m61 0h1M17 39h1m17 0h3m17 0h1m18 0h2m12 0h2m9 0h2m3 0h1m18 0h2M10 41h1m2 0h1m8 0h2m3 0h1m21 0h3m31 0h1m3 0h1M11 43h2m9 0h2m7 0h1m9 0h1m4 0h2m42 0h1m3 0h1m4 0h2m10 0h1M8 45h2m5 0h2m8 0h2m25 0h1m13 0h1m4 0h2m8 0h2m2 0h2m18 0h1M10 47h1m67 0h2m8 0h2m1 0h1m12 0h1m10 0h1M1 49h2m3 0h1m6 0h1m22 0h3m3 0h1m5 0h1m14 0h1m3 0h2m19 0h2m2 0h2m15 0h2m7 0h1M15 51h2m8 0h2m92 0h1M28 53h1m12 0h1m14 0h1m27 0h1m5 0h1M17 55h1m16 0h1m14 0h1m9 0h4m42 0h1m5 0h1M13 57h1m71 0h2m10 0h1m8 0h2m5 0h2M10 59h1m2 0h2m28 0h2m22 0h2m22 0h1M4 61h2m2 0h2m33 0h2m24 0h1m6 0h1m1 0h2m3 0h1M36 63h2m8 0h4m51 0h1M14 65h1m10 0h2m2 0h2m8 0h2m7 0h1m69 0h1M3 67h1m25 0h3m7 0h2m1 0h1m5 0h1m27 0h1m4 0h2m7 0h1m31 0h1M1 69h2m7 0h1m11 0h2m29 0h2m23 0h2m11 0h1m5 0h1m3 0h1M18 71h2m4 0h1m21 0h2m7 0h1m10 0h1m42 0h2m5 0h2" stroke="#ffffff" stroke-width="2"/></pattern><pattern id="pB" width="105" height="62" patternUnits="userSpaceOnUse"><path d="M3 1h1m16 0h1m4 0h2m7 0h1m7 0h1m2 0h1m52 0h1M38 3h3m4 0h1m4 0h2m3 0h1m7 0h1m5 0h1m31 0h1M27 5h1m3 0h1m30 0h1m3 0h1m7 0h2M1 7h2m3 0h1m20 0h1m31 0h3m8 0h1m33 0h1M4 9h2m14 0h2m6 0h1m41 0h1m17 0h3M0 11h1m12 0h1m17 0h1m6 0h1m2 0h1m38 0h1M1 13h2m24 0h1m4 0h2m11 0h1m16 0h1m6 0h1m3 0h1m4 0h2m1 0h2m2 0h2m8 0h2M3 15h1m76 0h1m14 0h3m1 0h2M25 17h2m5 0h3m53 0h2m11 0h1M6 19h1m45 0h1m10 0h1m38 0h2M4 21h2m7 0h1m3 0h1m16 0h1m10 0h1m20 0h1m13 0h1m16 0h1m6 0h1M0 23h1m3 0h2m2 0h2m14 0h1m2 0h1m1 0h2m19 0h3m4 0h2m5 0h2m10 0h1M4 25h3m32 0h2m9 0h2m7 0h1m25 0h3m13 0h1M35 27h1m16 0h3M27 29h1m11 0h2m4 0h1m45 0h1M0 31h1m7 0h2m26 0h2m21 0h1m10 0h1m26 0h1m4 0h2M6 33h1m29 0h2m1 0h2m25 0h1m2 0h1m15 0h2m10 0h1m4 0h2M17 35h3m2 0h2m5 0h2m3 0h1m8 0h2m22 0h3m17 0h1M14 37h1m10 0h2m2 0h2m5 0h2m11 0h1m28 0h2m8 0h2M45 39h1m4 0h2m10 0h1m8 0h2m8 0h2m1 0h1m12 0h1M28 41h1m12 0h1m39 0h2M14 43h1m7 0h2m5 0h2m15 0h2m26 0h2m25 0h1M8 45h2m25 0h3m7 0h3m1 0h1m19 0h1m14 0h1M13 47h1m13 0h1m1 0h2m3 0h1m1 0h3m20 0h3m9 0h2m3 0h1m4 0h2m5 0h2M0 49h1m38 0h2m36 0h1m14 0h2M3 51h1m62 0h1m18 0h2m5 0h3M17 53h1m6 0h1m3 0h1m20 0h1m9 0h1m6 0h1m2 0h1m8 0h3M0 55h1m3 0h2m7 0h1m20 0h1m38 0h1M3 57h1m10 0h1m3 0h2m19 0h2m39 0h1m21 0h2M39 59h2m9 0h2m5 0h2m5 0h2m10 0h1m7 0h1M11 61h2m11 0h1m23 0h1m7 0h1m16 0h1m10 0h1m19 0h1" stroke="#000000" stroke-width="2"/><path d="M1 1h2m24 0h2m38 0h2m23 0h5M3 3h1m13 0h1m2 0h1m11 0h2m26 0h2m8 0h1m10 0h3m13 0h1M8 5h2m19 0h2m14 0h1m6 0h1m30 0h1m20 0h1M39 7h2m8 0h1m3 0h2m8 0h1m9 0h1m9 0h1m11 0h2M0 9h1m24 0h2m5 0h2M28 11h1m30 0h1m6 0h3m8 0h1M10 13h1m4 0h2m4 0h1m2 0h3m26 0h2m43 0h1M8 15h2m7 0h1m17 0h1m5 0h1m4 0h2m4 0h1m7 0h2m22 0h1m5 0h1M10 17h1m3 0h1m16 0h1m7 0h2m53 0h1M0 19h1m3 0h2m11 0h1m42 0h3m3 0h1m2 0h1m7 0h1M39 21h2m19 0h2m7 0h1m20 0h1m10 0h1M20 23h1m7 0h1m3 0h3m3 0h1m49 0h2M7 25h1m13 0h1m9 0h1m2 0h1m8 0h2m1 0h2M13 27h2m9 0h1m23 0h1m7 0h1m2 0h1m2 0h1m4 0h2m7 0h1m15 0h2M29 29h2m3 0h1m3 0h1m42 0h2m16 0h2M4 31h2m12 0h2m7 0h1m17 0h3m7 0h1m7 0h1m9 0h1M8 33h2m21 0h1m11 0h2m12 0h2m8 0h2m26 0h2m7 0h1M15 35h2m25 0h1m3 0h2m23 0h2m8 0h2m21 0h1M3 37h1m39 0h2m32 0h1m3 0h2M10 39h1m38 0h1m26 0h1m1 0h2M0 41h1m3 0h2m1 0h1m17 0h2m18 0h1m2 0h1m29 0h2m5 0h2m14 0h3M8 43h2m38 0h1m18 0h2m2 0h3M4 45h3m21 0h1m3 0h3M32 47h2m8 0h1m10 0h2m12 0h2m1 0h1m3 0h2m22 0h1m3 0h3M1 49h2m22 0h2m19 0h2M38 51h1m2 0h1m4 0h2m7 0h1m7 0h1m24 0h2m1 0h1M0 53h1m20 0h3m15 0h2m47 0h2m1 0h1M60 55h2m8 0h1m14 0h2M1 57h2m4 0h1m2 0h1m10 0h3m10 0h1m17 0h1m41 0h1m6 0h1M6 59h1m8 0h2m10 0h1m7 0h1m17 0h2m7 0h1m28 0h1M8 61h2" stroke="#171717" stroke-width="2"/><path d="M13 1h1m36 0h2m18 0h1m9 0h4M15 3h2m11 0h1m6 0h1m10 0h2m40 0h2m9 0h2M3 5h1m30 0h1m7 0h1m24 0h2m7 0h1m20 0h1M24 7h1m20 0h1m34 0h1m3 0h1m17 0h2M3 9h1m2 0h1m3 0h1m18 0h2m3 0h1m29 0h2m15 0h2m14 0h1M6 11h1m14 0h1m33 0h2m16 0h1M8 13h2m3 0h1m42 0h3m7 0h1m16 0h2M4 15h2m4 0h4m10 0h1m20 0h1m18 0h2m7 0h1m11 0h2m1 0h2m11 0h1M27 17h1m10 0h1m13 0h1m3 0h1m20 0h1m9 0h1M3 19h1m25 0h2m1 0h2m30 0h2m1 0h2m4 0h1m2 0h1M0 21h1m13 0h1m12 0h1m25 0h2m18 0h1m17 0h1M1 23h2m22 0h2m9 0h2m18 0h1m27 0h1M24 25h1m28 0h2m11 0h1m3 0h3m1 0h2m5 0h2m15 0h1M28 27h1m20 0h1m31 0h2m4 0h1m11 0h2M10 29h1m13 0h1m18 0h2m3 0h1m22 0h2m7 0h1m6 0h1m14 0h2M10 31h1m41 0h1m37 0h1M4 33h2m14 0h1m31 0h1m2 0h1M6 35h1m3 0h1m62 0h1m14 0h2m8 0h1m3 0h2M0 37h1m34 0h1m9 0h1m2 0h1m43 0h2M7 39h1m5 0h2m3 0h3m22 0h2m1 0h2m8 0h1m10 0h2m4 0h1m14 0h2M6 41h1m7 0h1m14 0h2m4 0h1m34 0h1m16 0h1M3 43h1m9 0h1m11 0h2m5 0h2m1 0h1m5 0h1m11 0h2m23 0h2m3 0h1M10 45h1m10 0h3m1 0h2m21 0h1m4 0h2m2 0h2m11 0h3m28 0h1M6 47h1m41 0h1m43 0h2M7 49h1m20 0h1m12 0h2m7 0h2m1 0h2m32 0h1M43 51h2m3 0h1m3 0h1m9 0h1m13 0h2M18 53h2m11 0h1m52 0h1m17 0h2M15 55h2m3 0h1m15 0h2m14 0h1m9 0h1m28 0h1m6 0h1M0 57h1m5 0h1m10 0h1m24 0h1m14 0h2m32 0h1M22 59h2m12 0h2m14 0h1m2 0h1m14 0h1m6 0h1m2 0h1m17 0h1m3 0h3M1 61h3m24 0h1m13 0h1m19 0h1m6 0h1m29 0h3" stroke="#2e2e2e" stroke-width="2"/><path d="M15 1h2m4 0h1m21 0h2m8 0h2m35 0h1M13 3h1m10 0h1m23 0h1m3 0h1m14 0h2m7 0h1m3 0h1m13 0h1M14 5h1m26 0h1m11 0h2m16 0h2M0 7h1m41 0h1m21 0h2m10 0h1M35 9h3m4 0h1m10 0h2m22 0h1m5 0h1m18 0h2M24 11h1m59 0h1m3 0h2M3 13h1m42 0h2m11 0h1M6 15h1m15 0h2m10 0h1m18 0h2m8 0h1m7 0h2m4 0h1M1 17h2M10 19h1m3 0h1m10 0h3m18 0h2m43 0h1M24 21h1m6 0h1m6 0h1m20 0h1m3 0h1m12 0h4m7 0h1m6 0h3m2 0h2M21 23h1m9 0h1m3 0h1m33 0h1m20 0h1m13 0h1M1 25h2m15 0h2m5 0h3m21 0h1m17 0h2m19 0h2m2 0h2m1 0h2M4 27h3m18 0h2m7 0h1m10 0h3m9 0h2m4 0h1m6 0h1m6 0h1m6 0h1m13 0h1M7 29h1m59 0h2m9 0h2M6 31h1m15 0h2m5 0h2m7 0h1m9 0h1m28 0h1m3 0h2m8 0h1m6 0h1M3 33h1m30 0h1m14 0h3m1 0h2m28 0h1m4 0h2M38 35h1m9 0h2m5 0h1m14 0h1m9 0h1m16 0h1M6 37h1m15 0h2m3 0h1m4 0h2m16 0h2M36 39h2m17 0h1m18 0h2M11 41h2m30 0h2m24 0h1m3 0h1m2 0h1m6 0h2m7 0h2M43 43h2m15 0h2m37 0h2m1 0h2M27 45h1m10 0h3m26 0h2m18 0h1M24 47h1m41 0h1m2 0h1m3 0h1M29 49h2m14 0h1m2 0h1m20 0h1m13 0h1m1 0h2M97 51h1M7 53h4m27 0h1m18 0h2m1 0h2m14 0h1M8 55h2m12 0h2m18 0h1m7 0h2m4 0h1m19 0h1m13 0h1M13 57h1m14 0h1m12 0h1m14 0h1m5 0h1m22 0h2M28 59h1m49 0h2M10 61h1m48 0h1m11 0h2m12 0h2m8 0h2" stroke="#464646" stroke-width="2"/><path d="M0 1h1m5 0h1m10 0h1m44 0h1m38 0h1m2 0h1M6 3h1m1 0h2m4 0h1m56 0h2m5 0h2m15 0h2M17 5h1m3 0h1m6 0h1m31 0h2m25 0h1m13 0h3M13 7h1m6 0h2m12 0h1m1 0h2m5 0h2m10 0h1m6 0h1m11 0h2m18 0h1M13 9h1m3 0h1m41 0h1m9 0h1M3 11h1m32 0h2m14 0h1m23 0h1m14 0h3m1 0h2m5 0h2M18 13h3m14 0h3m29 0h2m33 0h2M7 15h1m28 0h2m64 0h2M8 17h2m45 0h1m3 0h1m20 0h1m10 0h1M1 19h2m19 0h3m46 0h2m10 0h1m15 0h2M35 21h1m5 0h1m4 0h3m22 0h2m1 0h2m8 0h1M22 23h2m19 0h2m46 0h1m9 0h3M42 25h1m21 0h2M31 27h1m10 0h1m47 0h2M4 29h2m16 0h2m17 0h1m13 0h1m7 0h1M3 31h1m11 0h2m8 0h2m37 0h2m33 0h2M25 33h2m32 0h1m2 0h2m7 0h2M13 35h1m7 0h1m13 0h1m23 0h1m2 0h1m14 0h1m23 0h1M4 37h2m4 0h1m13 0h1m3 0h1m23 0h1m18 0h2m7 0h1m3 0h1m16 0h1m2 0h1M1 39h2m12 0h2m35 0h1m39 0h2m1 0h2m1 0h1M10 41h1m13 0h1m7 0h2m2 0h2m22 0h2m4 0h1M6 43h1m45 0h1m11 0h3m25 0h2M13 45h1m50 0h3m10 0h1m21 0h2M11 47h2m5 0h2m5 0h2m29 0h1m21 0h2m11 0h1m5 0h1M13 49h1m13 0h1m32 0h2m8 0h1m9 0h1M36 51h2m33 0h2m25 0h1m3 0h2M27 53h1m4 0h2m1 0h1m12 0h1m18 0h2m5 0h2m1 0h1m19 0h2M7 55h1m2 0h3m12 0h2m21 0h1m15 0h2m3 0h1m10 0h1m13 0h1M4 57h2m49 0h1m4 0h2m26 0h2m5 0h2M34 59h1m6 0h1m3 0h3m18 0h1m4 0h2m28 0h1M7 61h1m7 0h2m10 0h1m1 0h2m1 0h2m1 0h1m13 0h1m30 0h1" stroke="#5d5d5d" stroke-width="2"/><path d="M11 1h2m28 0h1m6 0h1m7 0h1m2 0h1m4 0h2m19 0h2M1 3h2m1 0h2m19 0h2m35 0h1m41 0h1M35 5h1m10 0h2m15 0h1M15 7h2m1 0h2m2 0h2m24 0h1m28 0h1m14 0h2M27 9h1m3 0h1m7 0h2m8 0h1m16 0h1m7 0h2m8 0h1m6 0h1m9 0h1m2 0h1M8 11h2m35 0h1m44 0h1m13 0h1M87 13h1m13 0h1M50 15h2m7 0h1m6 0h1m11 0h2m12 0h2m10 0h1M7 17h1m27 0h1m10 0h2m36 0h1m5 0h1m7 0h1M11 19h2m23 0h2m4 0h3m11 0h1m17 0h2m4 0h3M20 21h1M3 23h1m10 0h1m44 0h1m10 0h1m6 0h1m9 0h1m6 0h1M8 25h2m42 0h1m16 0h1m6 0h1m20 0h1M17 27h1m4 0h2m3 0h1m4 0h2m2 0h2m17 0h1m13 0h1m1 0h2m5 0h3m13 0h1M52 29h1m7 0h2m4 0h1m9 0h1m13 0h1M17 31h1m24 0h1m13 0h1m23 0h1m6 0h3m4 0h1M32 33h2m8 0h1m34 0h3m4 0h1M4 35h2m14 0h1m6 0h2m12 0h1m32 0h2m2 0h2m3 0h2m7 0h2M15 37h3m3 0h1m35 0h2m11 0h1m2 0h1m9 0h1m1 0h2m4 0h1m10 0h2M21 39h1m2 0h1m14 0h2m36 0h1M17 41h1m2 0h1m6 0h1m18 0h2m1 0h1m6 0h1m5 0h4m11 0h1m21 0h2M4 43h2m5 0h2m4 0h1m45 0h1m27 0h1m2 0h1m3 0h1M50 45h2m22 0h2m9 0h2M3 47h1m3 0h1m38 0h2m2 0h2m35 0h1M11 49h2m11 0h1m30 0h1m22 0h2m8 0h3m7 0h1M8 51h2m14 0h1m10 0h1m13 0h1m20 0h1m10 0h2M11 53h2m16 0h2m11 0h1m20 0h3M17 55h1m3 0h1m6 0h3m12 0h3m13 0h1m32 0h2m3 0h1M25 57h2m22 0h1m17 0h2m1 0h1m3 0h2m16 0h2M0 59h3m1 0h2m4 0h1m32 0h2m3 0h1m11 0h2m1 0h1m24 0h3m4 0h2M14 61h1m7 0h2m1 0h2m12 0h2m29 0h1m20 0h1m2 0h1m2 0h1" stroke="#747474" stroke-width="2"/><path d="M7 1h3m22 0h2m5 0h2m56 0h1M34 3h1m7 0h3m19 0h2m32 0h1M1 5h2m4 0h1m10 0h3m18 0h2m23 0h2m4 0h1m10 0h2m1 0h1M4 7h2m5 0h2m4 0h1m7 0h2m1 0h1m12 0h1m29 0h2m15 0h2M38 9h1m7 0h2m19 0h2m4 0h1m11 0h3m6 0h1m4 0h2M7 11h1m10 0h2m7 0h1m4 0h2m1 0h1m6 0h3m24 0h1m27 0h1M41 13h1m29 0h2m4 0h1m16 0h1M20 15h1m28 0h1m7 0h2m10 0h1M11 17h2m2 0h2m3 0h2m26 0h1m4 0h2m18 0h1m7 0h2m19 0h2M13 19h1m27 0h1m7 0h1m5 0h1m14 0h1m23 0h1M8 21h2m46 0h3m5 0h2m1 0h2m19 0h2m2 0h2M11 23h2m54 0h2M0 25h1m9 0h1m3 0h1m2 0h1m10 0h1m16 0h1m11 0h2m25 0h1m6 0h1M21 27h1m42 0h2M0 29h1m14 0h2m1 0h2m1 0h1m3 0h2m19 0h2m5 0h2m7 0h1m7 0h1m3 0h2m1 0h1m7 0h2m5 0h2m1 0h2M31 31h1m17 0h1m51 0h1M22 33h3m20 0h1m45 0h1m7 0h3M60 35h2m28 0h1m8 0h2M1 37h2m4 0h1m12 0h1m34 0h1m8 0h2m1 0h2m7 0h1M11 39h2m18 0h3m30 0h2m35 0h1M53 41h2m25 0h1m17 0h1M15 43h2m1 0h2m8 0h1m7 0h2m12 0h2m5 0h2m3 0h1m14 0h1M56 45h1m26 0h1m20 0h1M17 47h1m2 0h4m70 0h1M8 49h2m10 0h1m31 0h1m13 0h1m14 0h2m8 0h1m7 0h2m3 0h1M11 51h3m6 0h1m11 0h2m19 0h2m35 0h1m4 0h2M1 53h2m10 0h1m27 0h1m13 0h2m13 0h1m16 0h1M27 55h1m3 0h1m3 0h1m10 0h2m35 0h1m20 0h1M8 57h2m5 0h2m3 0h1m15 0h2m7 0h1m13 0h1m3 0h1m2 0h1m23 0h1M7 59h1m6 0h1M17 61h1m13 0h1m2 0h1m1 0h2m25 0h1m3 0h2m19 0h2m8 0h1" stroke="#8b8b8b" stroke-width="2"/><path d="M18 1h2m4 0h1m6 0h1m37 0h1m3 0h1m2 0h1M10 3h1m11 0h2m12 0h2m19 0h2m7 0h1m6 0h1m3 0h1m24 0h2M56 5h3m19 0h2m8 0h2M3 7h1m4 0h2m21 0h1m20 0h1m4 0h2m10 0h1M14 9h1m45 0h2m9 0h2m22 0h2M4 11h2m5 0h2m9 0h2m5 0h2m32 0h1m6 0h1m27 0h1M29 13h2m29 0h2m35 0h1m1 0h2M70 15h1m27 0h1M3 17h1m9 0h1m81 0h3M34 19h1m52 0h1M6 21h1m8 0h2m5 0h2m18 0h1m6 0h1m2 0h1M17 23h1m23 0h1m3 0h3m15 0h1m21 0h2M35 25h1m5 0h1m38 0h1m18 0h2M3 27h1m4 0h2m1 0h2m2 0h2m24 0h1m43 0h2m10 0h1M28 29h1m20 0h1M1 31h2m21 0h1m3 0h1m3 0h3m6 0h1m1 0h2m38 0h1m20 0h1M13 33h1m15 0h2m17 0h1m7 0h1m7 0h2m4 0h1m2 0h1m18 0h2M3 35h1m10 0h1m9 0h3m5 0h2m30 0h3m18 0h2M34 37h1m7 0h1m13 0h1m6 0h1m5 0h1m25 0h3M17 39h1m35 0h2m2 0h5m18 0h1m18 0h2M39 41h2m1 0h1m7 0h2m36 0h2M42 43h1m2 0h1m9 0h1m3 0h1m28 0h2M18 45h2m9 0h2m47 0h2m1 0h2m9 0h3m3 0h1m3 0h2M28 47h1m14 0h2m4 0h1m7 0h2m21 0h1m4 0h2M14 49h1m6 0h1m10 0h2m1 0h1m21 0h2m3 0h1m11 0h2m19 0h3M6 51h1m7 0h1m7 0h2m3 0h2m2 0h1m2 0h1m4 0h2m1 0h1m14 0h2m24 0h1m20 0h1M4 53h2m8 0h1m19 0h1m17 0h1m18 0h2M24 55h1m24 0h1m13 0h1m2 0h1m14 0h2m19 0h2M24 57h1m10 0h1m40 0h1m4 0h2m1 0h1M20 59h2m37 0h1m14 0h2m23 0h2M13 61h1m4 0h2m1 0h1m28 0h2m8 0h2m16 0h2m3 0h1" stroke="#a2a2a2" stroke-width="2"/><path d="M10 1h1m24 0h1m48 0h1m3 0h2M7 3h1m3 0h2m14 0h1m28 0h1m17 0h2m8 0h3m4 0h3M15 5h2m5 0h2m1 0h2m9 0h2m10 0h1m1 0h2m3 0h1m36 0h2m1 0h2m1 0h3M32 7h2m1 0h1m10 0h2m39 0h1M43 9h2m5 0h2m4 0h1m23 0h1M14 11h1m47 0h1m1 0h2m15 0h2m2 0h2m12 0h3M7 13h1m26 0h1m3 0h1m52 0h3M21 15h1m3 0h2m1 0h1m19 0h1m7 0h1m17 0h3m14 0h1M17 17h1m39 0h2m1 0h3m8 0h2m19 0h2M20 19h1m10 0h1m13 0h1m55 0h1M7 21h1m17 0h2m23 0h2m33 0h2m11 0h1M10 23h1m31 0h1m5 0h1m4 0h2m5 0h2m16 0h3m2 0h1M22 25h2m8 0h2m14 0h1m6 0h1m7 0h1m9 0h1m16 0h1m13 0h1M7 27h1m2 0h1m9 0h1m39 0h2m4 0h1M1 29h2m3 0h1m91 0h1M57 31h2m12 0h2m12 0h2M1 33h2m7 0h3m2 0h2m4 0h1m19 0h1m4 0h2m12 0h2m28 0h1M0 35h3m36 0h2m16 0h2M8 37h2m8 0h2m11 0h1m6 0h1m20 0h1m14 0h2m18 0h1M0 39h1m5 0h1m20 0h2m9 0h1m2 0h2m20 0h1m6 0h1m16 0h1M15 41h2m1 0h2m51 0h2m1 0h2m18 0h1M21 43h1m9 0h1m53 0h2M3 45h1m3 0h1m7 0h2m26 0h2m31 0h1m3 0h1m14 0h3M4 47h2m2 0h2m42 0h1m9 0h4m18 0h1m5 0h1m8 0h3M4 49h3m10 0h1m18 0h2m18 0h1m7 0h2m7 0h1M0 51h3m12 0h2m12 0h2m43 0h2m2 0h2m19 0h2M3 53h1m2 0h1m8 0h2m8 0h2m16 0h3m39 0h2m3 0h1m3 0h1m9 0h1M32 55h2m23 0h2m15 0h2m1 0h3M29 57h2m15 0h2m16 0h2m11 0h3m24 0h1M18 59h2m11 0h1m17 0h1m31 0h3m1 0h2m7 0h1m2 0h1M20 61h1m20 0h1m1 0h3m6 0h3m9 0h2m8 0h2" stroke="#b9b9b9" stroke-width="2"/><path d="M4 1h2m16 0h2m22 0h2m4 0h1m4 0h2m1 0h2m4 0h1m7 0h2m15 0h1m7 0h2m1 0h2M0 3h1m17 0h2m11 0h1M4 5h2m18 0h1m65 0h1M10 7h1m39 0h2m4 0h1m9 0h1m11 0h2m1 0h2m7 0h1m6 0h1m3 0h1M7 9h1m10 0h2m2 0h3m16 0h1m3 0h1m52 0h1M10 11h1m4 0h2m3 0h1m36 0h2m1 0h2m16 0h2m3 0h1M6 13h1m15 0h2m15 0h2m29 0h1m3 0h3m13 0h1M1 15h2m11 0h1m3 0h2m11 0h3m5 0h2m1 0h1m38 0h3M28 17h1m34 0h1m2 0h4m8 0h2M7 19h3m5 0h2m31 0h1m8 0h2m25 0h1m5 0h1m1 0h2m1 0h2m1 0h1M36 21h2m5 0h2m10 0h1M7 23h1m7 0h2m45 0h1m3 0h1m4 0h3m24 0h1M13 25h1m6 0h1m15 0h2m56 0h1m7 0h2M0 27h1m37 0h1m4 0h2m5 0h2m21 0h1m9 0h1m17 0h1M3 29h1m4 0h2m3 0h1m3 0h1m2 0h1m10 0h1m3 0h1m6 0h1m14 0h2M7 31h1m5 0h2m6 0h1m52 0h2m2 0h2m4 0h1m10 0h2M35 33h1m40 0h1m3 0h1m17 0h1M7 35h1m28 0h2m15 0h2m21 0h1m14 0h1m3 0h2M13 37h1m25 0h2m21 0h1m3 0h1m31 0h1M3 39h1m18 0h2m1 0h2m58 0h2m3 0h1m3 0h1M3 41h1m9 0h1m7 0h1m12 0h1m22 0h2m31 0h2m5 0h1M39 43h2m28 0h1m10 0h3m4 0h1m7 0h2M11 45h2m4 0h1m2 0h1m21 0h1m16 0h1m28 0h3M0 47h1m9 0h1m28 0h2m4 0h1m37 0h1m11 0h2M3 49h1m6 0h1m4 0h2m1 0h2m11 0h1M4 51h2m4 0h1m6 0h1m3 0h1m3 0h2m33 0h2m2 0h2m14 0h1m3 0h1M20 53h1m52 0h1m7 0h2m9 0h2m5 0h2M6 55h1m32 0h3m11 0h2m40 0h2m2 0h2M11 57h2m30 0h2m5 0h2m1 0h2m14 0h1m1 0h2m14 0h1M8 59h2m22 0h2m8 0h1m26 0h1m3 0h1m13 0h1m4 0h2M0 61h1m45 0h2m18 0h1m23 0h1m1 0h2m8 0h2" stroke="#d1d1d1" stroke-width="2"/><path d="M36 1h2m11 0h1m13 0h1m13 0h3m7 0h1M41 3h1m7 0h1m37 0h1M0 5h1m10 0h2m19 0h2m9 0h2m28 0h1m3 0h1M7 7h1m6 0h1m14 0h2m36 0h2m22 0h1m7 0h2M8 9h2m38 0h1m3 0h1m9 0h2m14 0h2M1 11h2m14 0h1m7 0h2m7 0h1m13 0h1m1 0h2m19 0h2m1 0h2m11 0h1M4 13h2m8 0h1m16 0h1m10 0h3m4 0h1m2 0h1m2 0h1m8 0h2m14 0h1m7 0h2m14 0h1M15 15h2m10 0h1m1 0h2m7 0h1m16 0h1m11 0h2m25 0h1M6 17h1m11 0h2m2 0h2m5 0h2m11 0h4m3 0h1m14 0h2m4 0h1m3 0h2m28 0h1M18 19h2m8 0h1m49 0h2m24 0h1M3 21h1m6 0h3m8 0h1m6 0h1m52 0h3M18 23h2m35 0h1m18 0h2m5 0h2m12 0h3M3 25h1m7 0h2m25 0h1M18 27h2m9 0h2m8 0h2M11 29h2m43 0h1m2 0h1m13 0h1m23 0h1M11 31h2m26 0h2m12 0h2m11 0h1m2 0h1M7 33h1m6 0h1m2 0h3m7 0h2m9 0h1m35 0h2m5 0h2m4 0h1M8 35h2m40 0h3m3 0h1M11 37h2m47 0h2m25 0h1M4 39h2m23 0h2m35 0h1m2 0h1m32 0h3M8 41h2m12 0h2m14 0h1m16 0h1m3 0h1m35 0h2M7 43h1m12 0h1m6 0h1m6 0h1m3 0h1m10 0h1m40 0h1m6 0h1M14 45h1m9 0h1m16 0h1m18 0h3M1 47h2m28 0h1m45 0h1M22 49h2m14 0h1m10 0h1m17 0h2m25 0h1m7 0h2M45 51h1m13 0h1m7 0h3m3 0h1M83 53h1m11 0h2m4 0h1M38 55h1m28 0h2m2 0h2m14 0h3M27 57h1m4 0h2m4 0h1m9 0h1m48 0h2M11 59h3m3 0h1m6 0h1m13 0h1m17 0h1m10 0h2M6 61h1m31 0h1m16 0h1m1 0h2m17 0h1m4 0h2m4 0h1" stroke="#e8e8e8" stroke-width="2"/><path d="M14 1h1m14 0h2m7 0h1m16 0h1m15 0h2M21 3h1m7 0h2m22 0h2m4 0h1m30 0h1M6 5h1m3 0h1m2 0h1m24 0h1m10 0h1m9 0h1m9 0h1m10 0h1m4 0h2m4 0h1m2 0h1M38 7h1m46 0h2m11 0h1M1 9h2m8 0h2m2 0h2m38 0h1m1 0h2m17 0h1m15 0h2M39 11h2m5 0h2m1 0h1m3 0h2m39 0h1M0 13h1m10 0h2m4 0h1m10 0h1m19 0h1m1 0h2m11 0h1M0 15h1m42 0h2m17 0h1m24 0h1M0 17h1m3 0h2m18 0h1m11 0h2m3 0h1m8 0h2m24 0h1m6 0h1m1 0h2m12 0h2M21 19h1m13 0h1m2 0h3m9 0h2m1 0h2m4 0h1m25 0h2m1 0h2m7 0h1M1 21h2m15 0h2m9 0h2m1 0h2m28 0h1m7 0h1m31 0h2M6 23h1m6 0h1m25 0h2m8 0h1m42 0h2m5 0h2M15 25h2m12 0h2m25 0h1m3 0h3m14 0h3m3 0h1M1 27h2m71 0h2m12 0h2m5 0h2m5 0h3M14 29h1m17 0h2m2 0h2m12 0h2m12 0h2m3 0h1m13 0h2m3 0h2m4 0h1m6 0h1m2 0h1M20 31h1m14 0h1m14 0h2m8 0h3m4 0h2m7 0h1m15 0h2M0 33h1m93 0h1M11 35h2m18 0h1m13 0h1m17 0h1m30 0h1M41 37h1m4 0h2m5 0h2m35 0h1m8 0h2M8 39h2m24 0h2m12 0h1m34 0h1m7 0h1M1 41h2m28 0h1m20 0h1m14 0h2m35 0h1M0 43h3m7 0h1m13 0h1m31 0h1m13 0h1m5 0h1m7 0h1m19 0h1M0 45h3m28 0h1m20 0h1m2 0h1m7 0h1m9 0h1m17 0h1M14 47h3m18 0h1m5 0h1m13 0h1M34 49h1m8 0h2m14 0h1m3 0h1m7 0h2m3 0h1m7 0h1m16 0h1M7 51h1m10 0h2m30 0h2m4 0h1m30 0h1m13 0h1M36 53h2m8 0h2m2 0h2m1 0h2m7 0h1M1 55h3m10 0h1m3 0h2m35 0h1m28 0h1m16 0h1M31 57h1m41 0h1m9 0h1m15 0h2M3 59h1m21 0h2m2 0h2M4 61h2m71 0h1" stroke="#ffffff" stroke-width="2"/></pattern><g id="nz"><rect width="1320" height="460" fill="url(#pA)"/><rect width="1320" height="460" fill="url(#pB)" fill-opacity="0.5"/></g><filter id="fB" x="19" y="35" width="1282" height="408" filterUnits="userSpaceOnUse" color-interpolation-filters="sRGB"><feImage href="#nz" result="n"/><feComponentTransfer in="n"><feFuncR type="table" tableValues="0.344 0.351 0.357 0.361 0.365 0.368 0.371 0.374 0.376 0.379 0.381 0.383 0.385 0.388 0.391 0.394 0.395 0.398 0.400 0.402 0.404 0.405 0.406 0.408 0.410 0.412 0.413 0.415 0.417 0.418 0.420 0.421 0.422 0.423 0.425 0.426 0.427 0.428 0.430 0.431 0.432 0.433 0.434 0.436 0.436 0.438 0.439 0.440 0.441 0.442 0.443 0.444 0.445 0.446 0.447 0.448 0.449 0.450 0.451 0.452 0.453 0.454 0.455 0.456 0.456 0.457 0.458 0.459 0.460 0.461 0.462 0.463 0.464 0.465 0.465 0.466 0.467 0.468 0.469 0.469 0.470 0.471 0.472 0.473 0.473 0.474 0.475 0.476 0.477 0.477 0.478 0.479 0.479 0.480 0.481 0.482 0.482 0.483 0.484 0.485 0.485 0.486 0.487 0.488 0.488 0.489 0.490 0.491 0.491 0.492 0.493 0.493 0.494 0.495 0.496 0.496 0.497 0.498 0.498 0.499 0.500 0.500 0.501 0.502 0.503 0.503 0.504 0.505 0.505 0.506 0.507 0.507 0.508 0.509 0.510 0.510 0.511 0.511 0.512 0.513 0.514 0.514 0.515 0.515 0.516 0.517 0.517 0.518 0.519 0.519 0.520 0.520 0.521 0.522 0.522 0.523 0.523 0.524 0.525 0.525 0.526 0.526 0.527 0.528 0.528 0.529 0.529 0.530 0.530 0.531 0.531 0.532 0.532 0.533 0.534 0.534 0.535 0.535 0.536 0.536 0.537 0.537 0.538 0.538 0.539 0.539 0.540 0.540 0.541 0.541 0.542 0.542 0.543 0.544 0.544 0.545 0.545 0.546 0.546 0.547 0.547 0.548 0.549 0.549 0.550 0.550 0.551 0.552 0.552 0.553 0.553 0.554 0.554 0.555 0.555 0.556 0.556 0.557 0.558 0.558 0.559 0.560 0.560 0.561 0.561 0.562 0.563 0.563 0.564 0.565 0.565 0.566 0.567 0.567 0.568 0.569 0.569 0.570 0.571 0.572 0.572 0.573 0.574 0.575 0.576 0.577 0.577 0.578 0.579 0.580 0.581 0.582 0.583 0.585 0.586 0.588"/></feComponentTransfer><feColorMatrix type="matrix" values="1 0 0 0 0 1 0 0 0 0 1 0 0 0 0 0 0 0 0 1" result="ng"/><feComposite in="SourceGraphic" in2="ng" operator="arithmetic" k1="0" k2="1" k3="1" k4="-0.5"/><feComponentTransfer><feFuncR type="table" tableValues="0.000 0.000 0.000 0.000 0.000 0.000 0.000 0.000 0.000 0.000 0.000 0.000 0.000 0.000 0.000 0.000 0.000 0.000 0.000 0.000 0.000 0.000 0.000 0.000 0.000 0.000 0.012 0.051 0.090 0.129 0.169 0.208 0.247 0.286 0.325 0.365 0.404 0.443 0.478 0.502 0.529 0.557 0.580 0.624 0.675 0.722 0.769 0.816 0.859 0.902 0.945 0.988 1.000 1.000 1.000 1.000 1.000 1.000 1.000 1.000 1.000 1.000 1.000 1.000 1.000 1.000 1.000 1.000 1.000 1.000 1.000 1.000 1.000 1.000 1.000 1.000 1.000 1.000 1.000 1.000 1.000 1.000 1.000 1.000 1.000 1.000 1.000 1.000 1.000 1.000 1.000 1.000 1.000 1.000 1.000 1.000 1.000 1.000 1.000 1.000 1.000 1.000 1.000 1.000 1.000 1.000 1.000 1.000 1.000 1.000 1.000 1.000 1.000 1.000 1.000 1.000 1.000 1.000 1.000 1.000 1.000 1.000 1.000 1.000 1.000 1.000 1.000 1.000 1.000"/><feFuncG type="table" tableValues="0.000 0.000 0.000 0.000 0.000 0.000 0.000 0.000 0.000 0.000 0.000 0.000 0.000 0.000 0.000 0.000 0.000 0.000 0.000 0.000 0.000 0.000 0.000 0.000 0.000 0.000 0.016 0.059 0.106 0.153 0.196 0.243 0.282 0.318 0.349 0.380 0.416 0.447 0.478 0.502 0.529 0.557 0.580 0.624 0.675 0.722 0.769 0.816 0.859 0.902 0.945 0.988 0.973 0.933 0.894 0.855 0.816 0.776 0.737 0.698 0.659 0.620 0.580 0.537 0.498 0.455 0.412 0.373 0.329 0.286 0.251 0.212 0.176 0.141 0.102 0.067 0.031 0.000 0.000 0.000 0.000 0.000 0.000 0.000 0.000 0.000 0.000 0.000 0.000 0.000 0.000 0.000 0.000 0.000 0.000 0.000 0.000 0.000 0.000 0.000 0.000 0.000 0.000 0.000 0.000 0.000 0.000 0.004 0.043 0.086 0.129 0.169 0.212 0.251 0.294 0.337 0.376 0.420 0.463 0.502 0.545 0.588 0.627 0.667 0.706 0.745 0.784 0.824 0.863"/><feFuncB type="table" tableValues="0.000 0.020 0.039 0.063 0.082 0.102 0.122 0.145 0.173 0.212 0.251 0.290 0.329 0.369 0.412 0.471 0.529 0.588 0.647 0.706 0.761 0.800 0.843 0.886 0.929 0.973 0.992 0.969 0.949 0.925 0.902 0.878 0.851 0.804 0.757 0.714 0.667 0.620 0.580 0.545 0.510 0.475 0.439 0.392 0.341 0.286 0.235 0.184 0.141 0.098 0.055 0.012 0.000 0.000 0.000 0.000 0.000 0.000 0.000 0.000 0.000 0.000 0.000 0.000 0.000 0.000 0.000 0.000 0.000 0.000 0.000 0.000 0.000 0.000 0.000 0.000 0.000 0.004 0.035 0.067 0.098 0.129 0.161 0.192 0.224 0.255 0.286 0.318 0.349 0.380 0.412 0.443 0.475 0.518 0.557 0.600 0.643 0.682 0.725 0.769 0.800 0.831 0.859 0.886 0.918 0.945 0.973 1.000 1.000 1.000 1.000 1.000 1.000 1.000 1.000 1.000 1.000 1.000 1.000 1.000 1.000 1.000 1.000 1.000 1.000 1.000 1.000 1.000 1.000"/></feComponentTransfer><feComposite in2="SourceAlpha" operator="in"/></filter><filter id="fH" x="19" y="35" width="1282" height="408" filterUnits="userSpaceOnUse" color-interpolation-filters="sRGB"><feImage href="#nz" result="n"/><feComponentTransfer in="n"><feFuncR type="table" tableValues="0.441 0.443 0.445 0.447 0.448 0.450 0.451 0.452 0.453 0.454 0.455 0.455 0.456 0.457 0.458 0.459 0.460 0.461 0.462 0.463 0.463 0.464 0.464 0.465 0.466 0.466 0.467 0.468 0.468 0.469 0.469 0.470 0.470 0.471 0.471 0.472 0.472 0.473 0.473 0.474 0.474 0.475 0.475 0.475 0.476 0.476 0.477 0.477 0.477 0.478 0.478 0.479 0.479 0.479 0.480 0.480 0.481 0.481 0.481 0.482 0.482 0.482 0.483 0.483 0.483 0.484 0.484 0.484 0.485 0.485 0.485 0.486 0.486 0.487 0.487 0.487 0.487 0.488 0.488 0.488 0.489 0.489 0.489 0.490 0.490 0.490 0.490 0.491 0.491 0.491 0.492 0.492 0.492 0.492 0.493 0.493 0.493 0.494 0.494 0.494 0.494 0.495 0.495 0.495 0.496 0.496 0.496 0.496 0.497 0.497 0.497 0.497 0.498 0.498 0.498 0.499 0.499 0.499 0.499 0.500 0.500 0.500 0.500 0.501 0.501 0.501 0.501 0.502 0.502 0.502 0.503 0.503 0.503 0.503 0.504 0.504 0.504 0.504 0.505 0.505 0.505 0.505 0.506 0.506 0.506 0.506 0.507 0.507 0.507 0.507 0.508 0.508 0.508 0.508 0.508 0.509 0.509 0.509 0.509 0.510 0.510 0.510 0.510 0.510 0.511 0.511 0.511 0.511 0.512 0.512 0.512 0.512 0.512 0.513 0.513 0.513 0.513 0.513 0.514 0.514 0.514 0.514 0.514 0.515 0.515 0.515 0.515 0.515 0.516 0.516 0.516 0.516 0.516 0.517 0.517 0.517 0.517 0.517 0.518 0.518 0.518 0.518 0.519 0.519 0.519 0.519 0.519 0.520 0.520 0.520 0.520 0.520 0.521 0.521 0.521 0.521 0.522 0.522 0.522 0.522 0.523 0.523 0.523 0.523 0.523 0.524 0.524 0.524 0.524 0.525 0.525 0.525 0.525 0.526 0.526 0.526 0.526 0.527 0.527 0.527 0.528 0.528 0.528 0.529 0.529 0.529 0.530 0.530 0.530 0.530 0.531 0.531 0.532 0.532 0.533 0.533"/></feComponentTransfer><feColorMatrix type="matrix" values="1 0 0 0 0 1 0 0 0 0 1 0 0 0 0 0 0 0 0 1" result="ng"/><feComposite in="SourceGraphic" in2="ng" operator="arithmetic" k1="0" k2="1" k3="1" k4="-0.5"/><feComponentTransfer><feFuncR type="table" tableValues="0.000 0.000 0.000 0.000 0.000 0.000 0.000 0.000 0.000 0.000 0.000 0.000 0.000 0.000 0.000 0.000 0.000 0.000 0.000 0.000 0.000 0.000 0.000 0.000 0.000 0.000 0.012 0.051 0.090 0.129 0.169 0.208 0.247 0.286 0.325 0.365 0.404 0.443 0.478 0.502 0.529 0.557 0.580 0.624 0.675 0.722 0.769 0.816 0.859 0.902 0.945 0.988 1.000 1.000 1.000 1.000 1.000 1.000 1.000 1.000 1.000 1.000 1.000 1.000 1.000 1.000 1.000 1.000 1.000 1.000 1.000 1.000 1.000 1.000 1.000 1.000 1.000 1.000 1.000 1.000 1.000 1.000 1.000 1.000 1.000 1.000 1.000 1.000 1.000 1.000 1.000 1.000 1.000 1.000 1.000 1.000 1.000 1.000 1.000 1.000 1.000 1.000 1.000 1.000 1.000 1.000 1.000 1.000 1.000 1.000 1.000 1.000 1.000 1.000 1.000 1.000 1.000 1.000 1.000 1.000 1.000 1.000 1.000 1.000 1.000 1.000 1.000 1.000 1.000"/><feFuncG type="table" tableValues="0.000 0.000 0.000 0.000 0.000 0.000 0.000 0.000 0.000 0.000 0.000 0.000 0.000 0.000 0.000 0.000 0.000 0.000 0.000 0.000 0.000 0.000 0.000 0.000 0.000 0.000 0.016 0.059 0.106 0.153 0.196 0.243 0.282 0.318 0.349 0.380 0.416 0.447 0.478 0.502 0.529 0.557 0.580 0.624 0.675 0.722 0.769 0.816 0.859 0.902 0.945 0.988 0.973 0.933 0.894 0.855 0.816 0.776 0.737 0.698 0.659 0.620 0.580 0.537 0.498 0.455 0.412 0.373 0.329 0.286 0.251 0.212 0.176 0.141 0.102 0.067 0.031 0.000 0.000 0.000 0.000 0.000 0.000 0.000 0.000 0.000 0.000 0.000 0.000 0.000 0.000 0.000 0.000 0.000 0.000 0.000 0.000 0.000 0.000 0.000 0.000 0.000 0.000 0.000 0.000 0.000 0.000 0.004 0.043 0.086 0.129 0.169 0.212 0.251 0.294 0.337 0.376 0.420 0.463 0.502 0.545 0.588 0.627 0.667 0.706 0.745 0.784 0.824 0.863"/><feFuncB type="table" tableValues="0.000 0.020 0.039 0.063 0.082 0.102 0.122 0.145 0.173 0.212 0.251 0.290 0.329 0.369 0.412 0.471 0.529 0.588 0.647 0.706 0.761 0.800 0.843 0.886 0.929 0.973 0.992 0.969 0.949 0.925 0.902 0.878 0.851 0.804 0.757 0.714 0.667 0.620 0.580 0.545 0.510 0.475 0.439 0.392 0.341 0.286 0.235 0.184 0.141 0.098 0.055 0.012 0.000 0.000 0.000 0.000 0.000 0.000 0.000 0.000 0.000 0.000 0.000 0.000 0.000 0.000 0.000 0.000 0.000 0.000 0.000 0.000 0.000 0.000 0.000 0.000 0.000 0.004 0.035 0.067 0.098 0.129 0.161 0.192 0.224 0.255 0.286 0.318 0.349 0.380 0.412 0.443 0.475 0.518 0.557 0.600 0.643 0.682 0.725 0.769 0.800 0.831 0.859 0.886 0.918 0.945 0.973 1.000 1.000 1.000 1.000 1.000 1.000 1.000 1.000 1.000 1.000 1.000 1.000 1.000 1.000 1.000 1.000 1.000 1.000 1.000 1.000 1.000 1.000"/></feComponentTransfer><feComposite in2="SourceAlpha" operator="in"/></filter><filter id="fV" x="19" y="35" width="1282" height="408" filterUnits="userSpaceOnUse" color-interpolation-filters="sRGB"><feImage href="#nz" result="n"/><feComponentTransfer in="n"><feFuncR type="table" tableValues="0.433 0.436 0.439 0.440 0.442 0.443 0.445 0.446 0.447 0.448 0.449 0.450 0.451 0.452 0.453 0.454 0.455 0.456 0.457 0.458 0.459 0.459 0.460 0.461 0.461 0.462 0.463 0.464 0.464 0.465 0.466 0.466 0.467 0.467 0.468 0.468 0.469 0.469 0.470 0.470 0.471 0.471 0.472 0.472 0.473 0.473 0.474 0.474 0.475 0.475 0.476 0.476 0.476 0.477 0.477 0.478 0.478 0.479 0.479 0.479 0.480 0.480 0.481 0.481 0.481 0.482 0.482 0.483 0.483 0.483 0.484 0.484 0.484 0.485 0.485 0.486 0.486 0.486 0.487 0.487 0.487 0.488 0.488 0.488 0.489 0.489 0.489 0.490 0.490 0.490 0.491 0.491 0.491 0.491 0.492 0.492 0.492 0.493 0.493 0.493 0.494 0.494 0.494 0.495 0.495 0.495 0.496 0.496 0.496 0.497 0.497 0.497 0.497 0.498 0.498 0.498 0.499 0.499 0.499 0.500 0.500 0.500 0.500 0.501 0.501 0.501 0.502 0.502 0.502 0.503 0.503 0.503 0.503 0.504 0.504 0.504 0.505 0.505 0.505 0.506 0.506 0.506 0.506 0.507 0.507 0.507 0.507 0.508 0.508 0.508 0.508 0.509 0.509 0.509 0.510 0.510 0.510 0.510 0.511 0.511 0.511 0.511 0.512 0.512 0.512 0.512 0.513 0.513 0.513 0.513 0.513 0.514 0.514 0.514 0.514 0.515 0.515 0.515 0.515 0.516 0.516 0.516 0.516 0.516 0.517 0.517 0.517 0.517 0.518 0.518 0.518 0.518 0.518 0.519 0.519 0.519 0.519 0.520 0.520 0.520 0.520 0.521 0.521 0.521 0.521 0.522 0.522 0.522 0.522 0.523 0.523 0.523 0.523 0.523 0.524 0.524 0.524 0.524 0.525 0.525 0.525 0.526 0.526 0.526 0.526 0.527 0.527 0.527 0.527 0.528 0.528 0.528 0.529 0.529 0.529 0.529 0.530 0.530 0.530 0.531 0.531 0.531 0.532 0.532 0.533 0.533 0.533 0.534 0.534 0.534 0.535 0.535 0.536 0.536 0.537 0.538"/></feComponentTransfer><feColorMatrix type="matrix" values="1 0 0 0 0 1 0 0 0 0 1 0 0 0 0 0 0 0 0 1" result="ng"/><feComposite in="SourceGraphic" in2="ng" operator="arithmetic" k1="0" k2="1" k3="1" k4="-0.5"/><feComponentTransfer><feFuncR type="table" tableValues="0.000 0.000 0.000 0.000 0.000 0.000 0.000 0.000 0.000 0.000 0.000 0.000 0.000 0.000 0.000 0.000 0.000 0.000 0.000 0.000 0.000 0.000 0.000 0.000 0.000 0.000 0.012 0.051 0.090 0.129 0.169 0.208 0.247 0.286 0.325 0.365 0.404 0.443 0.478 0.502 0.529 0.557 0.580 0.624 0.675 0.722 0.769 0.816 0.859 0.902 0.945 0.988 1.000 1.000 1.000 1.000 1.000 1.000 1.000 1.000 1.000 1.000 1.000 1.000 1.000 1.000 1.000 1.000 1.000 1.000 1.000 1.000 1.000 1.000 1.000 1.000 1.000 1.000 1.000 1.000 1.000 1.000 1.000 1.000 1.000 1.000 1.000 1.000 1.000 1.000 1.000 1.000 1.000 1.000 1.000 1.000 1.000 1.000 1.000 1.000 1.000 1.000 1.000 1.000 1.000 1.000 1.000 1.000 1.000 1.000 1.000 1.000 1.000 1.000 1.000 1.000 1.000 1.000 1.000 1.000 1.000 1.000 1.000 1.000 1.000 1.000 1.000 1.000 1.000"/><feFuncG type="table" tableValues="0.000 0.000 0.000 0.000 0.000 0.000 0.000 0.000 0.000 0.000 0.000 0.000 0.000 0.000 0.000 0.000 0.000 0.000 0.000 0.000 0.000 0.000 0.000 0.000 0.000 0.000 0.016 0.059 0.106 0.153 0.196 0.243 0.282 0.318 0.349 0.380 0.416 0.447 0.478 0.502 0.529 0.557 0.580 0.624 0.675 0.722 0.769 0.816 0.859 0.902 0.945 0.988 0.973 0.933 0.894 0.855 0.816 0.776 0.737 0.698 0.659 0.620 0.580 0.537 0.498 0.455 0.412 0.373 0.329 0.286 0.251 0.212 0.176 0.141 0.102 0.067 0.031 0.000 0.000 0.000 0.000 0.000 0.000 0.000 0.000 0.000 0.000 0.000 0.000 0.000 0.000 0.000 0.000 0.000 0.000 0.000 0.000 0.000 0.000 0.000 0.000 0.000 0.000 0.000 0.000 0.000 0.000 0.004 0.043 0.086 0.129 0.169 0.212 0.251 0.294 0.337 0.376 0.420 0.463 0.502 0.545 0.588 0.627 0.667 0.706 0.745 0.784 0.824 0.863"/><feFuncB type="table" tableValues="0.000 0.020 0.039 0.063 0.082 0.102 0.122 0.145 0.173 0.212 0.251 0.290 0.329 0.369 0.412 0.471 0.529 0.588 0.647 0.706 0.761 0.800 0.843 0.886 0.929 0.973 0.992 0.969 0.949 0.925 0.902 0.878 0.851 0.804 0.757 0.714 0.667 0.620 0.580 0.545 0.510 0.475 0.439 0.392 0.341 0.286 0.235 0.184 0.141 0.098 0.055 0.012 0.000 0.000 0.000 0.000 0.000 0.000 0.000 0.000 0.000 0.000 0.000 0.000 0.000 0.000 0.000 0.000 0.000 0.000 0.000 0.000 0.000 0.000 0.000 0.000 0.000 0.004 0.035 0.067 0.098 0.129 0.161 0.192 0.224 0.255 0.286 0.318 0.349 0.380 0.412 0.443 0.475 0.518 0.557 0.600 0.643 0.682 0.725 0.769 0.800 0.831 0.859 0.886 0.918 0.945 0.973 1.000 1.000 1.000 1.000 1.000 1.000 1.000 1.000 1.000 1.000 1.000 1.000 1.000 1.000 1.000 1.000 1.000 1.000 1.000 1.000 1.000 1.000"/></feComponentTransfer><feComposite in2="SourceAlpha" operator="in"/></filter><filter id="fP" x="19" y="35" width="1282" height="408" filterUnits="userSpaceOnUse" color-interpolation-filters="sRGB"><feImage href="#nz" result="n"/><feComponentTransfer in="n"><feFuncR type="table" tableValues="0.292 0.302 0.309 0.315 0.320 0.324 0.328 0.331 0.335 0.338 0.341 0.344 0.347 0.351 0.355 0.358 0.361 0.363 0.366 0.369 0.372 0.373 0.375 0.377 0.380 0.382 0.384 0.387 0.389 0.391 0.393 0.395 0.396 0.398 0.399 0.401 0.403 0.404 0.406 0.408 0.409 0.411 0.413 0.414 0.415 0.417 0.418 0.419 0.421 0.422 0.424 0.425 0.427 0.428 0.430 0.431 0.432 0.433 0.434 0.436 0.437 0.438 0.440 0.441 0.442 0.443 0.444 0.446 0.447 0.448 0.449 0.450 0.452 0.453 0.454 0.455 0.456 0.457 0.458 0.459 0.460 0.461 0.462 0.463 0.464 0.466 0.467 0.468 0.469 0.470 0.471 0.472 0.473 0.473 0.475 0.476 0.477 0.478 0.479 0.480 0.481 0.482 0.482 0.483 0.484 0.485 0.486 0.487 0.488 0.489 0.490 0.491 0.492 0.493 0.494 0.495 0.496 0.497 0.498 0.499 0.500 0.501 0.502 0.502 0.503 0.504 0.505 0.506 0.507 0.508 0.509 0.510 0.511 0.512 0.513 0.514 0.514 0.515 0.516 0.517 0.518 0.519 0.520 0.521 0.521 0.522 0.523 0.524 0.525 0.526 0.526 0.527 0.528 0.529 0.530 0.530 0.531 0.532 0.533 0.534 0.534 0.535 0.536 0.537 0.537 0.538 0.539 0.540 0.540 0.541 0.542 0.543 0.543 0.544 0.545 0.545 0.546 0.547 0.548 0.548 0.549 0.550 0.550 0.551 0.552 0.553 0.553 0.554 0.555 0.555 0.556 0.557 0.557 0.558 0.559 0.560 0.560 0.561 0.562 0.563 0.563 0.564 0.565 0.566 0.566 0.567 0.568 0.569 0.570 0.570 0.571 0.572 0.572 0.573 0.574 0.575 0.575 0.576 0.577 0.578 0.579 0.580 0.580 0.581 0.582 0.583 0.583 0.584 0.585 0.586 0.587 0.588 0.589 0.590 0.591 0.592 0.593 0.593 0.595 0.596 0.597 0.598 0.599 0.601 0.602 0.602 0.603 0.604 0.605 0.606 0.608 0.609 0.611 0.613 0.615 0.617"/></feComponentTransfer><feColorMatrix type="matrix" values="1 0 0 0 0 1 0 0 0 0 1 0 0 0 0 0 0 0 0 1" result="ng"/><feComposite in="SourceGraphic" in2="ng" operator="arithmetic" k1="0" k2="1" k3="1" k4="-0.5"/><feComponentTransfer><feFuncR type="table" tableValues="0.000 0.000 0.000 0.000 0.000 0.000 0.000 0.000 0.000 0.000 0.000 0.000 0.000 0.000 0.000 0.000 0.000 0.000 0.000 0.000 0.000 0.000 0.000 0.000 0.000 0.000 0.012 0.051 0.090 0.129 0.169 0.208 0.247 0.286 0.325 0.365 0.404 0.443 0.478 0.502 0.529 0.557 0.580 0.624 0.675 0.722 0.769 0.816 0.859 0.902 0.945 0.988 1.000 1.000 1.000 1.000 1.000 1.000 1.000 1.000 1.000 1.000 1.000 1.000 1.000 1.000 1.000 1.000 1.000 1.000 1.000 1.000 1.000 1.000 1.000 1.000 1.000 1.000 1.000 1.000 1.000 1.000 1.000 1.000 1.000 1.000 1.000 1.000 1.000 1.000 1.000 1.000 1.000 1.000 1.000 1.000 1.000 1.000 1.000 1.000 1.000 1.000 1.000 1.000 1.000 1.000 1.000 1.000 1.000 1.000 1.000 1.000 1.000 1.000 1.000 1.000 1.000 1.000 1.000 1.000 1.000 1.000 1.000 1.000 1.000 1.000 1.000 1.000 1.000"/><feFuncG type="table" tableValues="0.000 0.000 0.000 0.000 0.000 0.000 0.000 0.000 0.000 0.000 0.000 0.000 0.000 0.000 0.000 0.000 0.000 0.000 0.000 0.000 0.000 0.000 0.000 0.000 0.000 0.000 0.016 0.059 0.106 0.153 0.196 0.243 0.282 0.318 0.349 0.380 0.416 0.447 0.478 0.502 0.529 0.557 0.580 0.624 0.675 0.722 0.769 0.816 0.859 0.902 0.945 0.988 0.973 0.933 0.894 0.855 0.816 0.776 0.737 0.698 0.659 0.620 0.580 0.537 0.498 0.455 0.412 0.373 0.329 0.286 0.251 0.212 0.176 0.141 0.102 0.067 0.031 0.000 0.000 0.000 0.000 0.000 0.000 0.000 0.000 0.000 0.000 0.000 0.000 0.000 0.000 0.000 0.000 0.000 0.000 0.000 0.000 0.000 0.000 0.000 0.000 0.000 0.000 0.000 0.000 0.000 0.000 0.004 0.043 0.086 0.129 0.169 0.212 0.251 0.294 0.337 0.376 0.420 0.463 0.502 0.545 0.588 0.627 0.667 0.706 0.745 0.784 0.824 0.863"/><feFuncB type="table" tableValues="0.000 0.020 0.039 0.063 0.082 0.102 0.122 0.145 0.173 0.212 0.251 0.290 0.329 0.369 0.412 0.471 0.529 0.588 0.647 0.706 0.761 0.800 0.843 0.886 0.929 0.973 0.992 0.969 0.949 0.925 0.902 0.878 0.851 0.804 0.757 0.714 0.667 0.620 0.580 0.545 0.510 0.475 0.439 0.392 0.341 0.286 0.235 0.184 0.141 0.098 0.055 0.012 0.000 0.000 0.000 0.000 0.000 0.000 0.000 0.000 0.000 0.000 0.000 0.000 0.000 0.000 0.000 0.000 0.000 0.000 0.000 0.000 0.000 0.000 0.000 0.000 0.000 0.004 0.035 0.067 0.098 0.129 0.161 0.192 0.224 0.255 0.286 0.318 0.349 0.380 0.412 0.443 0.475 0.518 0.557 0.600 0.643 0.682 0.725 0.769 0.800 0.831 0.859 0.886 0.918 0.945 0.973 1.000 1.000 1.000 1.000 1.000 1.000 1.000 1.000 1.000 1.000 1.000 1.000 1.000 1.000 1.000 1.000 1.000 1.000 1.000 1.000 1.000 1.000"/></feComponentTransfer><feComposite in2="SourceAlpha" operator="in"/></filter><linearGradient id="bg" gradientUnits="userSpaceOnUse" x1="19.40" y1="0" x2="1299.40" y2="0"><stop offset="-0.0003" stop-color="#121212"/><stop offset="0.0567" stop-color="#121212"/><stop offset="0.0630" stop-color="#121212"/><stop offset="0.0825" stop-color="#141414"/><stop offset="0.1020" stop-color="#171717"/><stop offset="0.1177" stop-color="#1a1a1a"/><stop offset="0.1372" stop-color="#1a1a1a"/><stop offset="0.1450" stop-color="#181818"/><stop offset="0.2020" stop-color="#1a1a1a"/><stop offset="0.2052" stop-color="#292929"/><stop offset="0.3325" stop-color="#292929"/><stop offset="0.3458" stop-color="#242424"/><stop offset="0.4052" stop-color="#242424"/><stop offset="0.4083" stop-color="#272727"/><stop offset="0.4848" stop-color="#272727"/><stop offset="0.4880" stop-color="#2c2c2c"/><stop offset="0.5005" stop-color="#2c2c2c"/><stop offset="0.5036" stop-color="#262626"/><stop offset="0.5239" stop-color="#262626"/><stop offset="0.5270" stop-color="#1e1e1e"/><stop offset="0.5411" stop-color="#1e1e1e"/><stop offset="0.5489" stop-color="#1b1b1b"/><stop offset="0.5802" stop-color="#1b1b1b"/><stop offset="0.5903" stop-color="#272727"/><stop offset="0.6333" stop-color="#272727"/><stop offset="0.6489" stop-color="#212121"/><stop offset="0.6645" stop-color="#1d1d1d"/><stop offset="0.6997" stop-color="#1d1d1d"/><stop offset="0.7036" stop-color="#232323"/><stop offset="0.7661" stop-color="#202020"/><stop offset="0.7973" stop-color="#1d1d1d"/><stop offset="1.0005" stop-color="#1d1d1d"/></linearGradient><linearGradient id="hl" gradientUnits="userSpaceOnUse" x1="19.40" y1="0" x2="1299.40" y2="0"><stop offset="-0.0003" stop-color="#121212"/><stop offset="0.0520" stop-color="#121212"/><stop offset="0.0567" stop-color="#303030"/><stop offset="0.0630" stop-color="#313131"/><stop offset="0.0825" stop-color="#343434"/><stop offset="0.0864" stop-color="#353535"/><stop offset="0.0942" stop-color="#3f3f3f"/><stop offset="0.1020" stop-color="#414141"/><stop offset="0.1177" stop-color="#444444"/><stop offset="0.1372" stop-color="#444444"/><stop offset="0.1411" stop-color="#434343"/><stop offset="0.1450" stop-color="#3f3f3f"/><stop offset="0.1528" stop-color="#393939"/><stop offset="0.2020" stop-color="#383838"/><stop offset="0.2036" stop-color="#3f3f3f"/><stop offset="0.2052" stop-color="#474747"/><stop offset="0.2466" stop-color="#474747"/><stop offset="0.2544" stop-color="#323232"/><stop offset="0.3325" stop-color="#323232"/><stop offset="0.3458" stop-color="#3f3f3f"/><stop offset="0.3911" stop-color="#3c3c3c"/><stop offset="0.4052" stop-color="#363636"/><stop offset="0.4083" stop-color="#373737"/><stop offset="0.4106" stop-color="#363636"/><stop offset="0.4848" stop-color="#363636"/><stop offset="0.4880" stop-color="#3b3b3b"/><stop offset="0.5005" stop-color="#3b3b3b"/><stop offset="0.5036" stop-color="#353535"/><stop offset="0.5239" stop-color="#353535"/><stop offset="0.5270" stop-color="#2d2d2d"/><stop offset="0.5411" stop-color="#2d2d2d"/><stop offset="0.5489" stop-color="#2a2a2a"/><stop offset="0.5802" stop-color="#2a2a2a"/><stop offset="0.5903" stop-color="#363636"/><stop offset="0.6333" stop-color="#363636"/><stop offset="0.6489" stop-color="#2d2d2d"/><stop offset="0.6645" stop-color="#292929"/><stop offset="0.6919" stop-color="#292929"/><stop offset="0.6997" stop-color="#393939"/><stop offset="0.7036" stop-color="#474747"/><stop offset="0.7208" stop-color="#464646"/><stop offset="0.7231" stop-color="#525252"/><stop offset="0.7411" stop-color="#515151"/><stop offset="0.7434" stop-color="#454545"/><stop offset="0.7661" stop-color="#3e3e3e"/><stop offset="0.7708" stop-color="#494949"/><stop offset="0.7973" stop-color="#474747"/><stop offset="0.8145" stop-color="#474747"/><stop offset="0.8161" stop-color="#5f5f5f"/><stop offset="0.8286" stop-color="#5f5f5f"/><stop offset="0.8302" stop-color="#353535"/><stop offset="0.8333" stop-color="#353535"/><stop offset="0.8348" stop-color="#4a4a4a"/><stop offset="0.8950" stop-color="#4a4a4a"/><stop offset="0.8966" stop-color="#353535"/><stop offset="0.9083" stop-color="#353535"/><stop offset="0.9098" stop-color="#4a4a4a"/><stop offset="0.9309" stop-color="#4a4a4a"/><stop offset="0.9325" stop-color="#626262"/><stop offset="0.9567" stop-color="#626262"/><stop offset="0.9583" stop-color="#353535"/><stop offset="0.9614" stop-color="#353535"/><stop offset="0.9630" stop-color="#474747"/><stop offset="1.0005" stop-color="#474747"/></linearGradient></defs><g clip-path="url(#pc)" shape-rendering="crispEdges"><g filter="url(#fB)"><rect x="19.40" y="35.30" width="1280.00" height="406.90" fill="url(#bg)"/><linearGradient id="ov0" x1="0" x2="1" y1="0" y2="0"><stop offset="0" stop-color="#fff" stop-opacity="0"/><stop offset="0.375" stop-color="#fff" stop-opacity="0.013"/><stop offset="0.625" stop-color="#fff" stop-opacity="0.013"/><stop offset="1" stop-color="#fff" stop-opacity="0"/></linearGradient><rect x="125.0" y="35.0" width="80.0" height="407.0" fill="url(#ov0)"/><linearGradient id="ov1" x1="0" x2="1" y1="0" y2="0"><stop offset="0" stop-color="#fff" stop-opacity="0"/><stop offset="0.284" stop-color="#fff" stop-opacity="0.013"/><stop offset="0.716" stop-color="#fff" stop-opacity="0.013"/><stop offset="1" stop-color="#fff" stop-opacity="0"/></linearGradient><rect x="120.0" y="35.0" width="88.0" height="115.0" fill="url(#ov1)"/><linearGradient id="ov2" x1="0" x2="1" y1="0" y2="0"><stop offset="0" stop-color="#fff" stop-opacity="0"/><stop offset="0.284" stop-color="#fff" stop-opacity="0.013"/><stop offset="0.716" stop-color="#fff" stop-opacity="0.013"/><stop offset="1" stop-color="#fff" stop-opacity="0"/></linearGradient><rect x="120.0" y="35.0" width="88.0" height="85.0" fill="url(#ov2)"/><linearGradient id="ov3" x1="0" x2="1" y1="0" y2="0"><stop offset="0" stop-color="#fff" stop-opacity="0"/><stop offset="0.361" stop-color="#fff" stop-opacity="0.013"/><stop offset="0.639" stop-color="#fff" stop-opacity="0.013"/><stop offset="1" stop-color="#fff" stop-opacity="0"/></linearGradient><rect x="125.0" y="260.0" width="83.0" height="182.0" fill="url(#ov3)"/><linearGradient id="ov4" x1="0" x2="1" y1="0" y2="0"><stop offset="0" stop-color="#fff" stop-opacity="0"/><stop offset="0.361" stop-color="#fff" stop-opacity="0.013"/><stop offset="0.639" stop-color="#fff" stop-opacity="0.013"/><stop offset="1" stop-color="#fff" stop-opacity="0"/></linearGradient><rect x="125.0" y="290.0" width="83.0" height="152.0" fill="url(#ov4)"/><linearGradient id="ov5" x1="0" x2="1" y1="0" y2="0"><stop offset="0" stop-color="#fff" stop-opacity="0"/><stop offset="0.361" stop-color="#fff" stop-opacity="0.013"/><stop offset="0.639" stop-color="#fff" stop-opacity="0.013"/><stop offset="1" stop-color="#fff" stop-opacity="0"/></linearGradient><rect x="125.0" y="320.0" width="83.0" height="122.0" fill="url(#ov5)"/><linearGradient id="ov6" x1="0" x2="1" y1="0" y2="0"><stop offset="0" stop-color="#fff" stop-opacity="0"/><stop offset="0.361" stop-color="#fff" stop-opacity="0.020"/><stop offset="0.639" stop-color="#fff" stop-opacity="0.020"/><stop offset="1" stop-color="#fff" stop-opacity="0"/></linearGradient><rect x="125.0" y="350.0" width="83.0" height="92.0" fill="url(#ov6)"/></g><g filter="url(#fH)"><rect x="90.0" y="43.2" width="1210.0" height="1.6" fill="url(#bg)"/><rect x="90.0" y="43.2" width="1210.0" height="1.6" fill="url(#hl)" fill-opacity="0.80"/><rect x="1216.0" y="49.8" width="30.0" height="1.6" fill="url(#bg)"/><rect x="1216.0" y="49.8" width="30.0" height="1.6" fill="url(#hl)" fill-opacity="0.40"/><rect x="90.0" y="64.2" width="1210.0" height="1.6" fill="url(#bg)"/><rect x="90.0" y="64.2" width="1210.0" height="1.6" fill="url(#hl)" fill-opacity="0.85"/><rect x="90.0" y="74.2" width="1210.0" height="1.6" fill="url(#bg)"/><rect x="90.0" y="74.2" width="1210.0" height="1.6" fill="url(#hl)" fill-opacity="0.85"/><rect x="90.0" y="87.7" width="1210.0" height="1.6" fill="url(#bg)"/><rect x="90.0" y="87.7" width="1210.0" height="1.6" fill="url(#hl)" fill-opacity="0.90"/><rect x="90.0" y="94.2" width="1210.0" height="1.6" fill="url(#bg)"/><rect x="90.0" y="94.2" width="1210.0" height="1.6" fill="url(#hl)" fill-opacity="0.85"/><rect x="90.0" y="102.2" width="1210.0" height="1.6" fill="url(#bg)"/><rect x="90.0" y="102.2" width="1210.0" height="1.6" fill="url(#hl)" fill-opacity="0.80"/><rect x="90.0" y="108.2" width="1210.0" height="2.5" fill="url(#bg)"/><rect x="90.0" y="108.2" width="1210.0" height="2.5" fill="url(#hl)" fill-opacity="0.95"/><rect x="90.0" y="113.6" width="1210.0" height="2.0" fill="url(#bg)"/><rect x="90.0" y="113.6" width="1210.0" height="2.0" fill="url(#hl)" fill-opacity="0.85"/><rect x="90.0" y="131.2" width="1210.0" height="1.6" fill="url(#bg)"/><rect x="90.0" y="131.2" width="1210.0" height="1.6" fill="url(#hl)" fill-opacity="0.90"/><rect x="109.0" y="140.2" width="1191.0" height="1.6" fill="url(#bg)"/><rect x="109.0" y="140.2" width="1191.0" height="1.6" fill="url(#hl)" fill-opacity="0.55"/><rect x="109.0" y="153.5" width="1191.0" height="2.0" fill="url(#bg)"/><rect x="109.0" y="153.5" width="1191.0" height="2.0" fill="url(#hl)" fill-opacity="0.60"/><rect x="107.0" y="165.2" width="1193.0" height="1.6" fill="url(#bg)"/><rect x="107.0" y="165.2" width="1193.0" height="1.6" fill="url(#hl)" fill-opacity="0.70"/><rect x="90.0" y="168.9" width="1210.0" height="1.6" fill="url(#bg)"/><rect x="90.0" y="168.9" width="1210.0" height="1.6" fill="url(#hl)" fill-opacity="0.85"/><rect x="90.0" y="177.2" width="1210.0" height="1.6" fill="url(#bg)"/><rect x="90.0" y="177.2" width="1210.0" height="1.6" fill="url(#hl)" fill-opacity="0.50"/><rect x="98.0" y="188.8" width="1202.0" height="2.4" fill="url(#bg)"/><rect x="98.0" y="188.8" width="1202.0" height="2.4" fill="url(#hl)" fill-opacity="0.85"/><rect x="90.0" y="202.2" width="1210.0" height="1.6" fill="url(#bg)"/><rect x="90.0" y="202.2" width="1210.0" height="1.6" fill="url(#hl)" fill-opacity="0.50"/><rect x="103.0" y="210.2" width="1197.0" height="1.6" fill="url(#bg)"/><rect x="103.0" y="210.2" width="1197.0" height="1.6" fill="url(#hl)" fill-opacity="0.80"/><rect x="90.0" y="222.2" width="1210.0" height="1.6" fill="url(#bg)"/><rect x="90.0" y="222.2" width="1210.0" height="1.6" fill="url(#hl)" fill-opacity="0.70"/><rect x="90.0" y="233.9" width="1210.0" height="1.6" fill="url(#bg)"/><rect x="90.0" y="233.9" width="1210.0" height="1.6" fill="url(#hl)" fill-opacity="0.65"/><rect x="145.0" y="238.8" width="1155.0" height="1.6" fill="url(#bg)"/><rect x="145.0" y="238.8" width="1155.0" height="1.6" fill="url(#hl)" fill-opacity="0.75"/><rect x="90.0" y="246.2" width="1210.0" height="1.6" fill="url(#bg)"/><rect x="90.0" y="246.2" width="1210.0" height="1.6" fill="url(#hl)" fill-opacity="0.60"/><rect x="87.0" y="285.7" width="1213.0" height="1.6" fill="url(#bg)"/><rect x="87.0" y="285.7" width="1213.0" height="1.6" fill="url(#hl)" fill-opacity="0.90"/><rect x="90.0" y="312.0" width="1210.0" height="1.6" fill="url(#bg)"/><rect x="90.0" y="312.0" width="1210.0" height="1.6" fill="url(#hl)" fill-opacity="0.40"/><rect x="90.0" y="325.7" width="1210.0" height="1.6" fill="url(#bg)"/><rect x="90.0" y="325.7" width="1210.0" height="1.6" fill="url(#hl)" fill-opacity="0.65"/><rect x="90.0" y="331.8" width="1210.0" height="1.6" fill="url(#bg)"/><rect x="90.0" y="331.8" width="1210.0" height="1.6" fill="url(#hl)" fill-opacity="0.60"/><rect x="90.0" y="359.2" width="1210.0" height="1.6" fill="url(#bg)"/><rect x="90.0" y="359.2" width="1210.0" height="1.6" fill="url(#hl)" fill-opacity="0.45"/><rect x="90.0" y="366.7" width="1210.0" height="1.6" fill="url(#bg)"/><rect x="90.0" y="366.7" width="1210.0" height="1.6" fill="url(#hl)" fill-opacity="0.95"/><rect x="90.0" y="370.5" width="1210.0" height="3.0" fill="url(#bg)"/><rect x="90.0" y="370.5" width="1210.0" height="3.0" fill="url(#hl)" fill-opacity="1.00"/><rect x="90.0" y="378.9" width="1210.0" height="1.6" fill="url(#bg)"/><rect x="90.0" y="378.9" width="1210.0" height="1.6" fill="url(#hl)" fill-opacity="0.80"/><rect x="103.0" y="391.2" width="1197.0" height="1.6" fill="url(#bg)"/><rect x="103.0" y="391.2" width="1197.0" height="1.6" fill="url(#hl)" fill-opacity="0.45"/><rect x="103.0" y="397.2" width="1197.0" height="1.6" fill="url(#bg)"/><rect x="103.0" y="397.2" width="1197.0" height="1.6" fill="url(#hl)" fill-opacity="0.65"/><rect x="103.0" y="404.7" width="1197.0" height="1.6" fill="url(#bg)"/><rect x="103.0" y="404.7" width="1197.0" height="1.6" fill="url(#hl)" fill-opacity="0.65"/><rect x="91.0" y="410.8" width="1209.0" height="1.6" fill="url(#bg)"/><rect x="91.0" y="410.8" width="1209.0" height="1.6" fill="url(#hl)" fill-opacity="0.95"/><rect x="90.0" y="432.2" width="1210.0" height="1.6" fill="url(#bg)"/><rect x="90.0" y="432.2" width="1210.0" height="1.6" fill="url(#hl)" fill-opacity="0.95"/><rect x="289.0" y="105.5" width="202.0" height="2.0" fill="#666666"/><rect x="154.0" y="127.0" width="35.0" height="1.6" fill="#636363"/><rect x="110.0" y="127.0" width="44.0" height="1.6" fill="#3f3f3f"/><rect x="189.0" y="127.0" width="41.0" height="1.6" fill="#484848"/><rect x="155.0" y="134.0" width="64.0" height="2.0" fill="#575757"/><rect x="120.0" y="134.0" width="35.0" height="2.0" fill="#454545"/><rect x="140.0" y="285.7" width="52.0" height="1.6" fill="#484848"/><rect x="160.0" y="285.7" width="20.0" height="1.6" fill="#5a5a5a"/><rect x="459.0" y="311.2" width="56.0" height="1.6" fill="#636363"/><rect x="433.0" y="305.9" width="82.0" height="1.6" fill="#484848"/><rect x="95.0" y="87.7" width="198.0" height="1.6" fill="#393939"/><rect x="109.0" y="155.2" width="70.0" height="1.6" fill="#363636"/></g><g filter="url(#fP)"><rect x="293.0" y="86.8" width="150.0" height="3.5" fill="#575757"/><rect x="293.0" y="91.5" width="150.0" height="3.0" fill="#545454"/><rect x="280.0" y="102.5" width="50.0" height="2.0" fill="#575757"/><rect x="253.0" y="347.0" width="90.0" height="4.0" fill="#545454"/><rect x="291.0" y="349.0" width="28.0" height="2.0" fill="#5d5d5d"/><rect x="246.0" y="358.2" width="97.0" height="2.5" fill="#575757"/><rect x="279.0" y="425.2" width="170.0" height="3.5" fill="#575757"/><rect x="278.0" y="285.7" width="177.0" height="1.6" fill="#4e4e4e"/></g><g filter="url(#fP)"><rect x="127.30" y="35.0" width="1.00" height="407.0" fill="#2a2a2a"/><rect x="182.00" y="35.0" width="1.00" height="407.0" fill="#393939"/><rect x="212.60" y="35.0" width="2.00" height="407.0" fill="#4b4b4b"/><rect x="243.00" y="35.0" width="2.00" height="407.0" fill="#4b4b4b"/><rect x="276.00" y="35.0" width="5.00" height="407.0" fill="#484848"/><rect x="292.50" y="35.0" width="1.00" height="407.0" fill="#4b4b4b"/><rect x="362.00" y="35.0" width="1.00" height="407.0" fill="#515151"/><rect x="382.00" y="35.0" width="1.00" height="407.0" fill="#4b4b4b"/><rect x="396.50" y="35.0" width="1.00" height="407.0" fill="#515151"/><rect x="399.00" y="250.0" width="1.00" height="130.0" fill="#4e4e4e"/><rect x="410.50" y="35.0" width="1.00" height="407.0" fill="#4b4b4b"/><rect x="430.00" y="35.0" width="2.00" height="407.0" fill="#5d5d5d"/><rect x="443.50" y="35.0" width="1.00" height="407.0" fill="#4b4b4b"/><rect x="448.00" y="35.0" width="9.00" height="407.0" fill="#636363"/><rect x="449.50" y="35.0" width="2.00" height="407.0" fill="#6f6f6f"/><rect x="453.50" y="35.0" width="2.00" height="407.0" fill="#6c6c6c"/><rect x="495.50" y="35.0" width="1.00" height="407.0" fill="#3c3c3c"/><rect x="540.90" y="35.0" width="1.00" height="407.0" fill="#5d5d5d"/><rect x="546.50" y="35.0" width="1.00" height="407.0" fill="#484848"/><rect x="568.50" y="35.0" width="2.00" height="407.0" fill="#5a5a5a"/><rect x="575.10" y="35.0" width="1.00" height="407.0" fill="#818181"/><rect x="591.50" y="35.0" width="5.00" height="407.0" fill="#545454"/><rect x="613.50" y="35.0" width="1.00" height="407.0" fill="#4b4b4b"/><rect x="617.00" y="35.0" width="3.00" height="407.0" fill="#6f6f6f"/><rect x="638.30" y="35.0" width="3.00" height="407.0" fill="#606060"/><rect x="647.50" y="35.0" width="1.00" height="407.0" fill="#3f3f3f"/><rect x="667.60" y="35.0" width="2.00" height="407.0" fill="#5a5a5a"/><rect x="688.50" y="35.0" width="3.00" height="407.0" fill="#5a5a5a"/><rect x="713.50" y="35.0" width="1.00" height="407.0" fill="#484848"/><rect x="746.50" y="35.0" width="1.00" height="407.0" fill="#3f3f3f"/><rect x="752.50" y="35.0" width="1.00" height="407.0" fill="#484848"/><rect x="763.00" y="35.0" width="2.00" height="407.0" fill="#6f6f6f"/><rect x="770.80" y="35.0" width="3.00" height="407.0" fill="#727272"/><rect x="777.00" y="35.0" width="2.00" height="407.0" fill="#575757"/><rect x="784.00" y="35.0" width="2.00" height="407.0" fill="#5d5d5d"/><rect x="791.30" y="35.0" width="1.00" height="407.0" fill="#787878"/><rect x="806.00" y="35.0" width="1.00" height="407.0" fill="#454545"/><rect x="829.40" y="35.0" width="2.00" height="407.0" fill="#696969"/><rect x="872.90" y="35.0" width="1.00" height="407.0" fill="#424242"/><rect x="892.50" y="290.0" width="1.00" height="152.0" fill="#454545"/><rect x="916.20" y="35.0" width="1.00" height="407.0" fill="#5d5d5d"/><rect x="941.80" y="35.0" width="2.00" height="407.0" fill="#606060"/><rect x="934.50" y="332.0" width="6.00" height="110.0" fill="#787878"/><rect x="954.00" y="35.0" width="1.00" height="407.0" fill="#5a5a5a"/><rect x="975.50" y="35.0" width="1.00" height="407.0" fill="#454545"/><rect x="985.00" y="35.0" width="1.00" height="407.0" fill="#454545"/><rect x="1139.50" y="35.0" width="1.00" height="407.0" fill="#2d2d2d"/><rect x="1155.10" y="35.0" width="1.00" height="265.0" fill="#333333"/><rect x="1182.25" y="35.0" width="1.50" height="265.0" fill="#3f3f3f"/><rect x="1184.50" y="300.0" width="1.00" height="142.0" fill="#484848"/><rect x="1192.80" y="35.0" width="1.00" height="407.0" fill="#393939"/><rect x="1191.00" y="35.0" width="1.00" height="265.0" fill="#454545"/><rect x="1248.50" y="35.0" width="1.00" height="215.0" fill="#454545"/><rect x="1214.50" y="35.0" width="1.00" height="265.0" fill="#2d2d2d"/><rect x="1227.20" y="300.0" width="1.00" height="142.0" fill="#2d2d2d"/><rect x="1249.50" y="300.0" width="1.00" height="142.0" fill="#2d2d2d"/></g><g filter="url(#fV)"><rect x="200.40" y="35.0" width="2.00" height="407.0" fill="#666666"/><rect x="216.10" y="35.0" width="1.00" height="407.0" fill="#666666"/><rect x="239.60" y="35.0" width="2.00" height="407.0" fill="#6f6f6f"/><rect x="243.50" y="211.0" width="1.00" height="18.0" fill="#5d5d5d"/><rect x="282.60" y="35.0" width="2.00" height="407.0" fill="#666666"/><rect x="288.60" y="35.0" width="2.00" height="407.0" fill="#878787"/><rect x="287.90" y="35.0" width="1.00" height="407.0" fill="#696969"/><rect x="320.10" y="35.0" width="1.00" height="407.0" fill="#666666"/><rect x="321.70" y="35.0" width="1.00" height="407.0" fill="#8d8d8d"/><rect x="340.00" y="35.0" width="1.00" height="407.0" fill="#5d5d5d"/><rect x="365.00" y="35.0" width="2.00" height="407.0" fill="#727272"/><rect x="377.10" y="35.0" width="1.00" height="407.0" fill="#8d8d8d"/><rect x="378.15" y="35.0" width="2.50" height="407.0" fill="#787878"/><rect x="380.50" y="35.0" width="1.00" height="407.0" fill="#696969"/><rect x="385.40" y="35.0" width="2.00" height="407.0" fill="#666666"/><rect x="391.50" y="35.0" width="1.00" height="407.0" fill="#848484"/><rect x="405.90" y="35.0" width="1.00" height="407.0" fill="#848484"/><rect x="412.90" y="35.0" width="3.00" height="407.0" fill="#696969"/><rect x="422.10" y="35.0" width="1.00" height="407.0" fill="#8d8d8d"/><rect x="458.20" y="35.0" width="2.00" height="407.0" fill="#8d8d8d"/><rect x="462.50" y="35.0" width="1.00" height="26.0" fill="#666666"/><rect x="462.50" y="312.0" width="1.00" height="84.0" fill="#666666"/><rect x="487.20" y="35.0" width="2.00" height="407.0" fill="#848484"/><rect x="509.70" y="35.0" width="1.00" height="407.0" fill="#696969"/><rect x="511.70" y="35.0" width="1.00" height="407.0" fill="#7e7e7e"/><rect x="556.90" y="342.0" width="1.00" height="36.0" fill="#5d5d5d"/><rect x="560.10" y="35.0" width="1.00" height="407.0" fill="#6c6c6c"/><rect x="592.00" y="35.0" width="1.00" height="407.0" fill="#666666"/><rect x="597.70" y="35.0" width="3.00" height="215.0" fill="#9c9c9c"/><rect x="597.70" y="250.0" width="3.00" height="192.0" fill="#8a8a8a"/><rect x="607.20" y="35.0" width="2.00" height="407.0" fill="#727272"/><rect x="661.90" y="35.0" width="3.00" height="407.0" fill="#b4b4b4"/><rect x="671.30" y="35.0" width="1.00" height="407.0" fill="#999999"/><rect x="676.00" y="35.0" width="1.00" height="407.0" fill="#757575"/><rect x="681.80" y="35.0" width="3.00" height="407.0" fill="#818181"/><rect x="710.90" y="35.0" width="1.00" height="407.0" fill="#6c6c6c"/><rect x="721.50" y="35.0" width="1.00" height="407.0" fill="#727272"/><rect x="755.70" y="184.0" width="1.00" height="172.0" fill="#696969"/><rect x="763.00" y="35.0" width="10.00" height="407.0" fill="#787878"/><rect x="765.80" y="35.0" width="3.00" height="407.0" fill="#909090"/><rect x="935.80" y="35.0" width="3.00" height="407.0" fill="#6f6f6f"/><rect x="939.50" y="35.0" width="1.00" height="407.0" fill="#878787"/><rect x="965.05" y="35.0" width="1.50" height="407.0" fill="#5d5d5d"/></g><g filter="url(#fV)"><line x1="308.60" y1="35.0" x2="308.60" y2="442.0" stroke="#636363" stroke-width="2.0" stroke-dasharray="6 4 8 4 8 8 8 6 2 4 2 8 2 2 2 4 4 2 4 6 2 6 2 2 8 2 4 4 2 4 2 2 2 6 6 4 2 2 2 2"/><line x1="324.60" y1="35.0" x2="324.60" y2="442.0" stroke="#5a5a5a" stroke-width="1.0" stroke-dasharray="2 2 2 2 4 4 2 6 8 8 2 2 8 2 4 4 2 4 4 2 2 4 2 4 4 6 6 2 6 8 8 4 2 4 4 4 4 8 4 2"/><line x1="399.50" y1="35.0" x2="399.50" y2="250.0" stroke="#636363" stroke-width="2.0" stroke-dasharray="4 4 8 2 2 4 2 8 4 4 2 6 4 4 4 6 2 4 2 8 2 6 2 2 2 4 4 6 4 6 4 4 2 6 8 4 4 2 4 2"/><line x1="398.50" y1="380.0" x2="398.50" y2="442.0" stroke="#5d5d5d" stroke-width="2.0" stroke-dasharray="2 4 6 6 4 2 4 4 8 6 2 4 8 4 4 2 2 8 2 8 8 4 4 2 8 2 2 6 6 4 2 2 8 6 4 4 4 8 4 2"/><line x1="584.00" y1="35.0" x2="584.00" y2="442.0" stroke="#666666" stroke-width="2.0" stroke-dasharray="2 8 2 4 4 2 2 8 6 2 8 4 2 2 4 4 2 2 4 4 2 4 6 2 6 4 4 8 8 4 4 4 4 4 4 2 2 4 6 2"/><line x1="628.40" y1="35.0" x2="628.40" y2="442.0" stroke="#666666" stroke-width="1.5" stroke-dasharray="8 4 4 2 2 4 4 6 6 6 4 2 4 8 6 8 2 4 4 6 8 8 4 4 4 8 8 4 4 8 2 6 2 4 6 4 4 8 4 4"/><line x1="883.20" y1="135.0" x2="883.20" y2="295.0" stroke="#5d5d5d" stroke-width="2.0" stroke-dasharray="4 6 8 8 4 4 4 8 4 8 4 4 2 8 4 4 4 6 2 6 2 2 4 4 4 8 2 8 8 8 4 2 6 6 6 8 4 4 6 6"/><line x1="486.00" y1="35.0" x2="486.00" y2="442.0" stroke="#666666" stroke-width="1.0" stroke-dasharray="1.6 5.6"/><line x1="624.60" y1="35.0" x2="624.60" y2="442.0" stroke="#9f9f9f" stroke-width="1.6" stroke-dasharray="1.6 5.6"/><line x1="634.00" y1="35.0" x2="634.00" y2="442.0" stroke="#a5a5a5" stroke-width="1.6" stroke-dasharray="1.6 5.6"/></g></g><rect x="19.5" y="35.5" width="1280" height="407" fill="none" stroke="#000" stroke-width="1.11"/><line x1="19.50" y1="442.50" x2="19.50" y2="447.36" stroke="#000" stroke-width="1.11"/><text x="19.40" y="461.6" font-size="13.89" text-anchor="middle" letter-spacing="0">0</text><line x1="62.50" y1="442.50" x2="62.50" y2="447.36" stroke="#000" stroke-width="1.11"/><text x="62.10" y="461.6" font-size="13.89" text-anchor="middle" letter-spacing="0">1</text><line x1="104.50" y1="442.50" x2="104.50" y2="447.36" stroke="#000" stroke-width="1.11"/><text x="104.80" y="461.6" font-size="13.89" text-anchor="middle" letter-spacing="0">2</text><line x1="147.50" y1="442.50" x2="147.50" y2="447.36" stroke="#000" stroke-width="1.11"/><text x="147.50" y="461.6" font-size="13.89" text-anchor="middle" letter-spacing="0">3</text><line x1="190.50" y1="442.50" x2="190.50" y2="447.36" stroke="#000" stroke-width="1.11"/><text x="190.20" y="461.6" font-size="13.89" text-anchor="middle" letter-spacing="0">4</text><line x1="232.50" y1="442.50" x2="232.50" y2="447.36" stroke="#000" stroke-width="1.11"/><text x="232.90" y="461.6" font-size="13.89" text-anchor="middle" letter-spacing="0">5</text><line x1="275.50" y1="442.50" x2="275.50" y2="447.36" stroke="#000" stroke-width="1.11"/><text x="275.60" y="461.6" font-size="13.89" text-anchor="middle" letter-spacing="0">6</text><line x1="318.50" y1="442.50" x2="318.50" y2="447.36" stroke="#000" stroke-width="1.11"/><text x="318.30" y="461.6" font-size="13.89" text-anchor="middle" letter-spacing="0">7</text><line x1="361.50" y1="442.50" x2="361.50" y2="447.36" stroke="#000" stroke-width="1.11"/><text x="361.00" y="461.6" font-size="13.89" text-anchor="middle" letter-spacing="0">8</text><line x1="403.50" y1="442.50" x2="403.50" y2="447.36" stroke="#000" stroke-width="1.11"/><text x="403.70" y="461.6" font-size="13.89" text-anchor="middle" letter-spacing="0">9</text><line x1="446.50" y1="442.50" x2="446.50" y2="447.36" stroke="#000" stroke-width="1.11"/><text x="446.00" y="461.6" font-size="13.89" text-anchor="middle" letter-spacing="-0.6">10</text><line x1="489.50" y1="442.50" x2="489.50" y2="447.36" stroke="#000" stroke-width="1.11"/><text x="488.70" y="461.6" font-size="13.89" text-anchor="middle" letter-spacing="-0.6">11</text><line x1="531.50" y1="442.50" x2="531.50" y2="447.36" stroke="#000" stroke-width="1.11"/><text x="531.40" y="461.6" font-size="13.89" text-anchor="middle" letter-spacing="-0.6">12</text><line x1="574.50" y1="442.50" x2="574.50" y2="447.36" stroke="#000" stroke-width="1.11"/><text x="574.10" y="461.6" font-size="13.89" text-anchor="middle" letter-spacing="-0.6">13</text><line x1="617.50" y1="442.50" x2="617.50" y2="447.36" stroke="#000" stroke-width="1.11"/><text x="616.80" y="461.6" font-size="13.89" text-anchor="middle" letter-spacing="-0.6">14</text><line x1="659.50" y1="442.50" x2="659.50" y2="447.36" stroke="#000" stroke-width="1.11"/><text x="659.50" y="461.6" font-size="13.89" text-anchor="middle" letter-spacing="-0.6">15</text><line x1="702.50" y1="442.50" x2="702.50" y2="447.36" stroke="#000" stroke-width="1.11"/><text x="702.20" y="461.6" font-size="13.89" text-anchor="middle" letter-spacing="-0.6">16</text><line x1="745.50" y1="442.50" x2="745.50" y2="447.36" stroke="#000" stroke-width="1.11"/><text x="744.90" y="461.6" font-size="13.89" text-anchor="middle" letter-spacing="-0.6">17</text><line x1="788.50" y1="442.50" x2="788.50" y2="447.36" stroke="#000" stroke-width="1.11"/><text x="787.60" y="461.6" font-size="13.89" text-anchor="middle" letter-spacing="-0.6">18</text><line x1="830.50" y1="442.50" x2="830.50" y2="447.36" stroke="#000" stroke-width="1.11"/><text x="830.30" y="461.6" font-size="13.89" text-anchor="middle" letter-spacing="-0.6">19</text><line x1="873.50" y1="442.50" x2="873.50" y2="447.36" stroke="#000" stroke-width="1.11"/><text x="873.00" y="461.6" font-size="13.89" text-anchor="middle" letter-spacing="-0.6">20</text><line x1="916.50" y1="442.50" x2="916.50" y2="447.36" stroke="#000" stroke-width="1.11"/><text x="915.70" y="461.6" font-size="13.89" text-anchor="middle" letter-spacing="-0.6">21</text><line x1="958.50" y1="442.50" x2="958.50" y2="447.36" stroke="#000" stroke-width="1.11"/><text x="958.40" y="461.6" font-size="13.89" text-anchor="middle" letter-spacing="-0.6">22</text><line x1="1001.50" y1="442.50" x2="1001.50" y2="447.36" stroke="#000" stroke-width="1.11"/><text x="1001.10" y="461.6" font-size="13.89" text-anchor="middle" letter-spacing="-0.6">23</text><line x1="1044.50" y1="442.50" x2="1044.50" y2="447.36" stroke="#000" stroke-width="1.11"/><text x="1043.80" y="461.6" font-size="13.89" text-anchor="middle" letter-spacing="-0.6">24</text><line x1="1086.50" y1="442.50" x2="1086.50" y2="447.36" stroke="#000" stroke-width="1.11"/><text x="1086.50" y="461.6" font-size="13.89" text-anchor="middle" letter-spacing="-0.6">25</text><line x1="1129.50" y1="442.50" x2="1129.50" y2="447.36" stroke="#000" stroke-width="1.11"/><text x="1129.20" y="461.6" font-size="13.89" text-anchor="middle" letter-spacing="-0.6">26</text><line x1="1172.50" y1="442.50" x2="1172.50" y2="447.36" stroke="#000" stroke-width="1.11"/><text x="1171.90" y="461.6" font-size="13.89" text-anchor="middle" letter-spacing="-0.6">27</text><line x1="1215.50" y1="442.50" x2="1215.50" y2="447.36" stroke="#000" stroke-width="1.11"/><text x="1214.60" y="461.6" font-size="13.89" text-anchor="middle" letter-spacing="-0.6">28</text><line x1="1257.50" y1="442.50" x2="1257.50" y2="447.36" stroke="#000" stroke-width="1.11"/><text x="1257.30" y="461.6" font-size="13.89" text-anchor="middle" letter-spacing="-0.6">29</text><text x="659.4" y="482.3" font-size="13.89" text-anchor="middle">MHz</text><text x="659.4" y="27.0" font-size="16.67" text-anchor="middle" letter-spacing="0.035">15/08/2025 14:00 local time - KIWI_2 - Skywire loop [SNR: 21 dB]</text><rect x="1311.60" y="35.30" width="25.80" height="406.90" fill="url(#cb)"/><rect x="1311.5" y="35.5" width="26" height="407" fill="none" stroke="#000" stroke-width="1.11"/><line x1="1337.50" y1="437.50" x2="1342.36" y2="437.50" stroke="#000" stroke-width="1.11"/><text x="1346.70" y="442.00" font-size="13.89" letter-spacing="-0.3">−100</text><line x1="1337.50" y1="389.50" x2="1342.36" y2="389.50" stroke="#000" stroke-width="1.11"/><text x="1346.70" y="395.00" font-size="13.89" letter-spacing="-0.3">−90</text><line x1="1337.50" y1="341.50" x2="1342.36" y2="341.50" stroke="#000" stroke-width="1.11"/><text x="1346.70" y="347.00" font-size="13.89" letter-spacing="-0.3">−80</text><line x1="1337.50" y1="293.50" x2="1342.36" y2="293.50" stroke="#000" stroke-width="1.11"/><text x="1346.70" y="299.00" font-size="13.89" letter-spacing="-0.3">−70</text><line x1="1337.50" y1="245.50" x2="1342.36" y2="245.50" stroke="#000" stroke-width="1.11"/><text x="1346.70" y="251.00" font-size="13.89" letter-spacing="-0.3">−60</text><line x1="1337.50" y1="197.50" x2="1342.36" y2="197.50" stroke="#000" stroke-width="1.11"/><text x="1346.70" y="203.00" font-size="13.89" letter-spacing="-0.3">−50</text><line x1="1337.50" y1="150.50" x2="1342.36" y2="150.50" stroke="#000" stroke-width="1.11"/><text x="1346.70" y="156.00" font-size="13.89" letter-spacing="-0.3">−40</text><line x1="1337.50" y1="102.50" x2="1342.36" y2="102.50" stroke="#000" stroke-width="1.11"/><text x="1346.70" y="108.00" font-size="13.89" letter-spacing="-0.3">−30</text><line x1="1337.50" y1="54.50" x2="1342.36" y2="54.50" stroke="#000" stroke-width="1.11"/><text x="1346.70" y="60.00" font-size="13.89" letter-spacing="-0.3">−20</text><text x="1324.4" y="26.8" font-size="16.67" text-anchor="middle">dBm</text></svg></body></html>
